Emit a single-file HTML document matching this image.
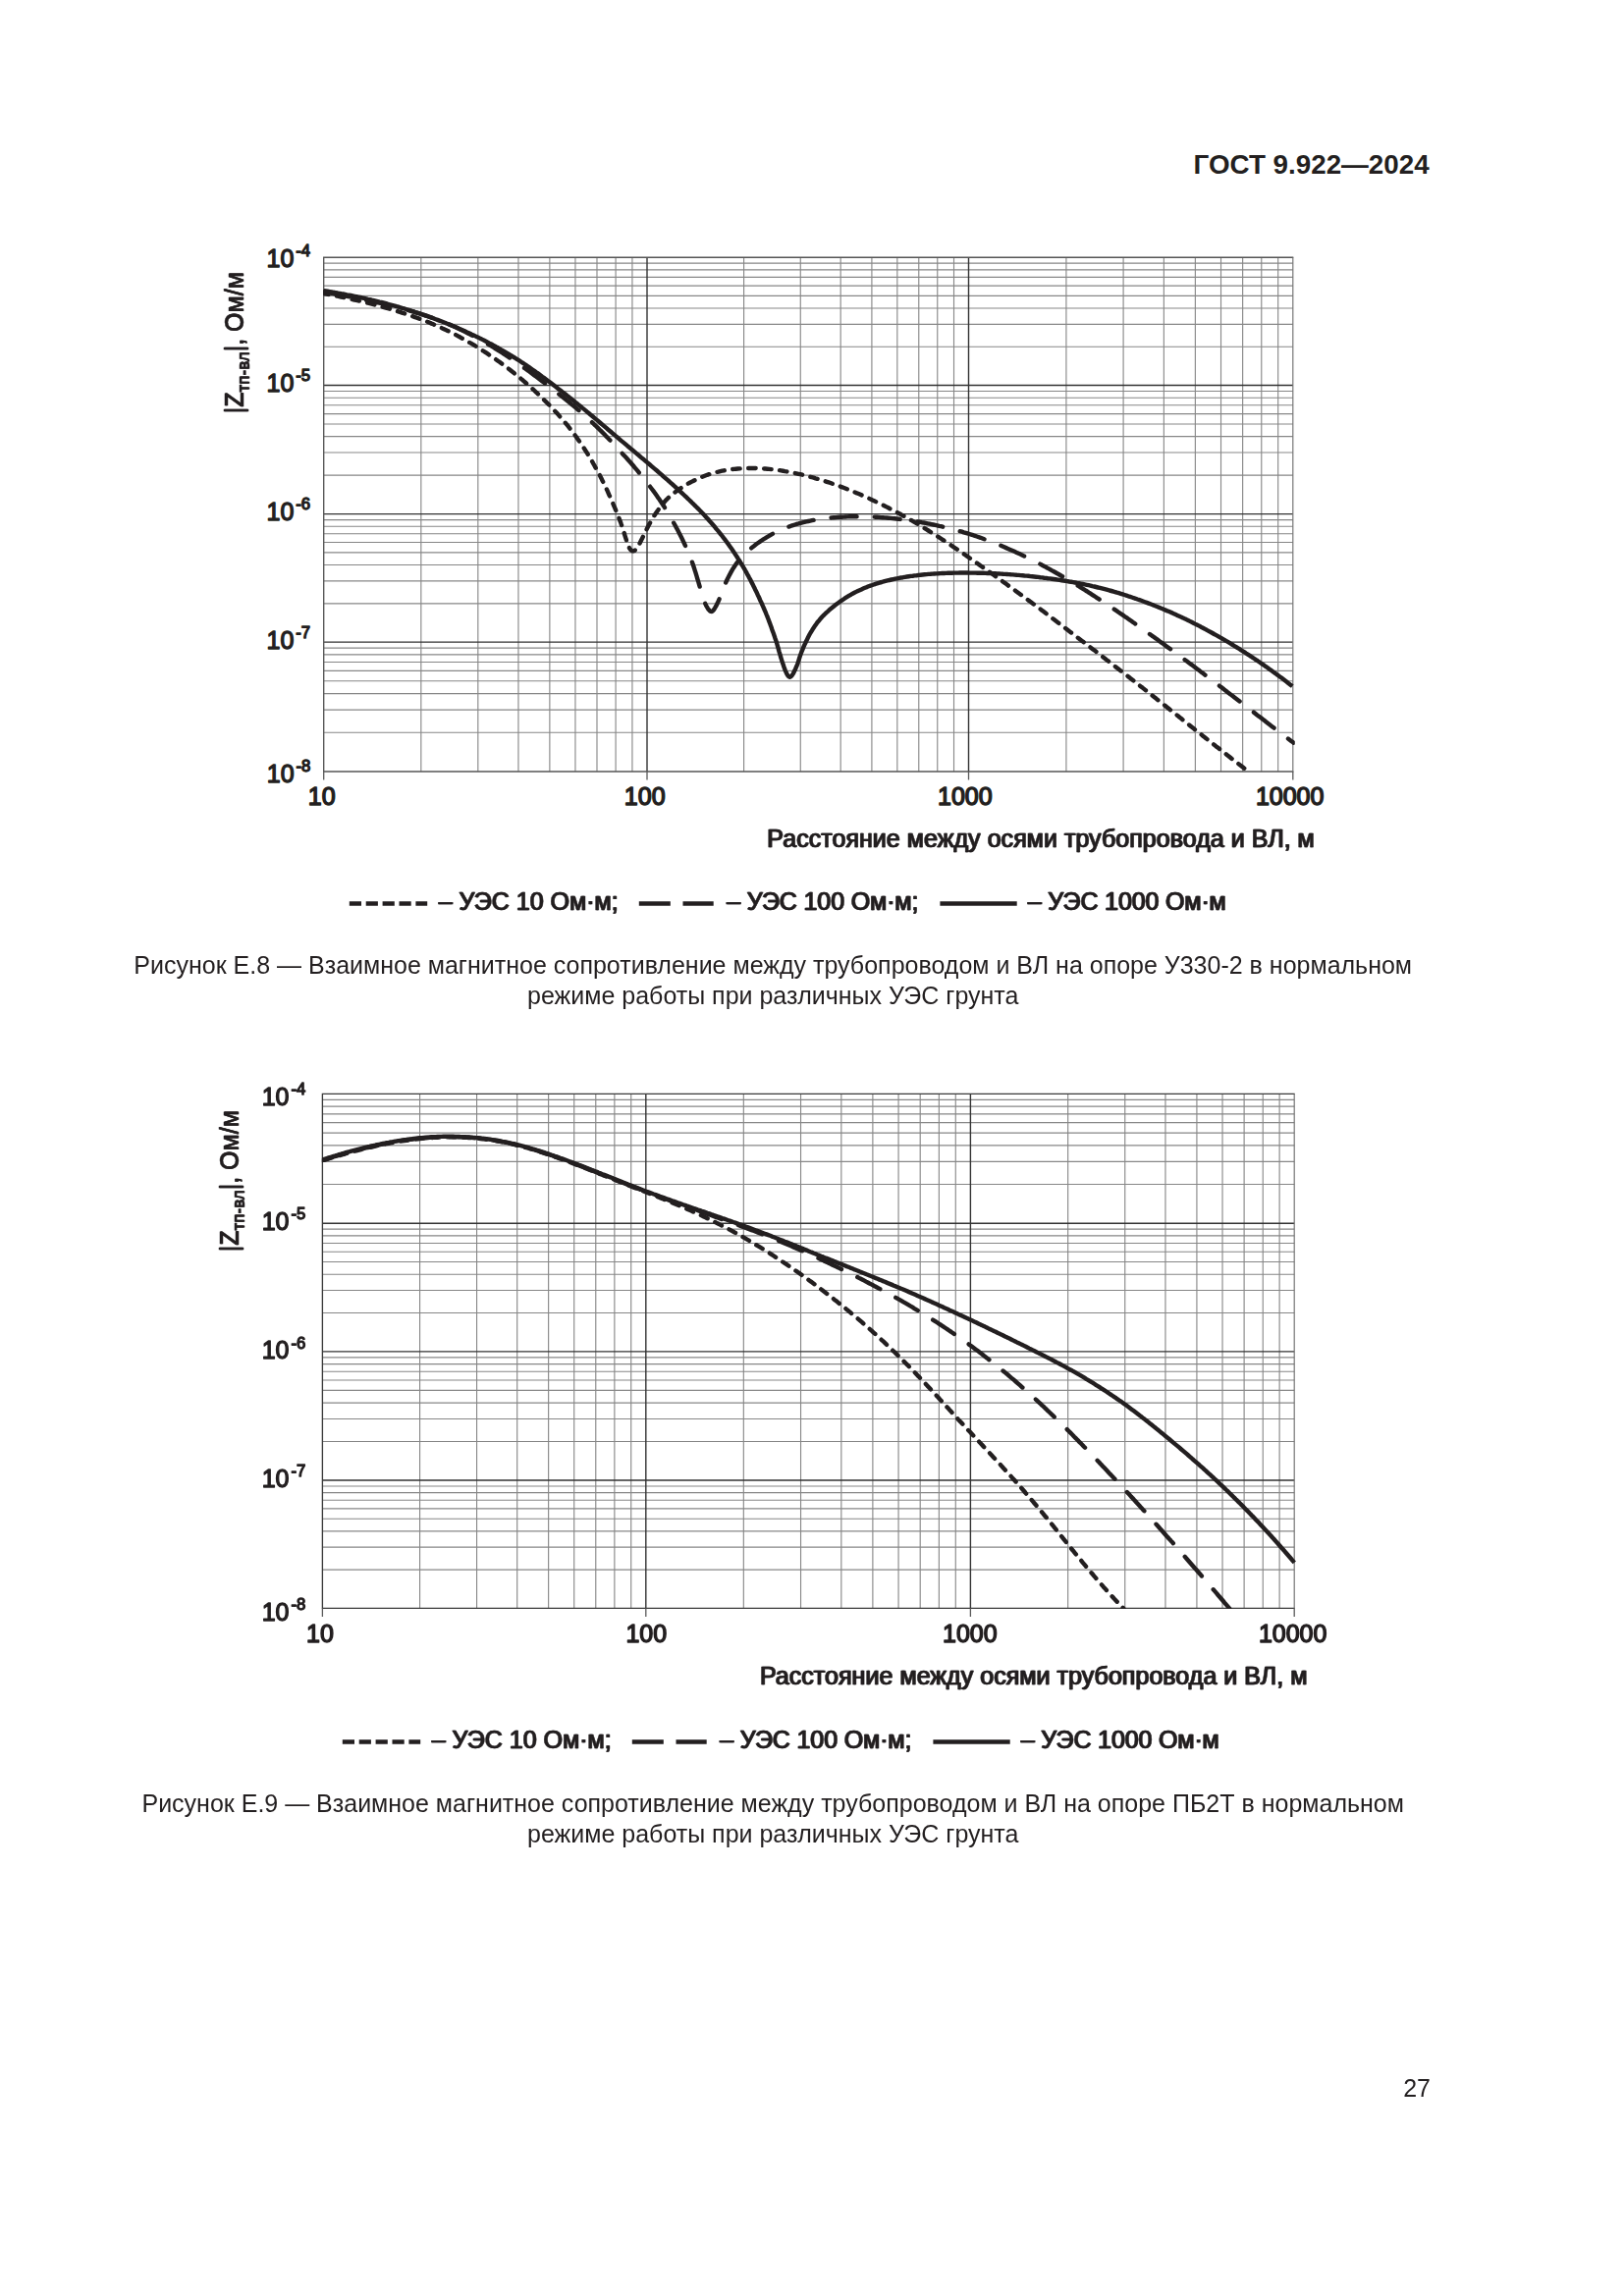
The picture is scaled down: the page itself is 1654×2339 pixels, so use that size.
<!DOCTYPE html>
<html lang="ru"><head><meta charset="utf-8"><title>ГОСТ 9.922—2024</title>
<style>
html,body{margin:0;padding:0;background:#fff}
body{width:1654px;height:2339px;overflow:hidden;position:relative}
svg{position:absolute;left:0;top:0;display:block}
text{font-family:"Liberation Sans",sans-serif;fill:#231f20;font-size:25px}
.cb{stroke:#231f20;stroke-width:0.5px;stroke-linejoin:round;font-size:25.0px}
.cl{stroke:#231f20;stroke-width:1.3px;stroke-linejoin:round;font-size:25.0px}
.cx{stroke:#231f20;stroke-width:1.4px;stroke-linejoin:round;font-size:25.0px}
.cap{font-size:25px;text-anchor:middle}
.hd{font-size:27.78px;font-weight:bold}
</style></head><body>
<svg width="1654" height="2339" viewBox="0 0 1654 2339">
<defs><filter id="ds" filterUnits="userSpaceOnUse" x="0" y="0" width="1654" height="2339" color-interpolation-filters="sRGB"><feOffset dx="0.6" dy="0" result="o"/><feMerge><feMergeNode in="SourceGraphic"/><feMergeNode in="o"/></feMerge></filter></defs>
<rect width="1654" height="2339" fill="#fff"/>
<text class="hd" x="1215.6" y="177.2">ГОСТ 9.922—2024</text>
<path d="M428.83,262.20V786.00M486.82,262.20V786.00M527.96,262.20V786.00M559.87,262.20V786.00M585.95,262.20V786.00M607.99,262.20V786.00M627.09,262.20V786.00M643.93,262.20V786.00M757.59,262.20V786.00M815.26,262.20V786.00M856.17,262.20V786.00M887.91,262.20V786.00M913.84,262.20V786.00M935.77,262.20V786.00M954.76,262.20V786.00M971.51,262.20V786.00M1085.93,262.20V786.00M1144.09,262.20V786.00M1185.36,262.20V786.00M1217.37,262.20V786.00M1243.52,262.20V786.00M1265.64,262.20V786.00M1284.79,262.20V786.00M1301.69,262.20V786.00M329.70,353.28H1316.80M329.70,330.33H1316.80M329.70,314.05H1316.80M329.70,301.42H1316.80M329.70,291.11H1316.80M329.70,282.38H1316.80M329.70,274.83H1316.80M329.70,268.16H1316.80M329.70,484.13H1316.80M329.70,461.05H1316.80M329.70,444.67H1316.80M329.70,431.97H1316.80M329.70,421.58H1316.80M329.70,412.81H1316.80M329.70,405.20H1316.80M329.70,398.50H1316.80M329.70,614.82H1316.80M329.70,591.84H1316.80M329.70,575.53H1316.80M329.70,562.88H1316.80M329.70,552.55H1316.80M329.70,543.81H1316.80M329.70,536.25H1316.80M329.70,529.57H1316.80M329.70,746.29H1316.80M329.70,723.07H1316.80M329.70,706.59H1316.80M329.70,693.81H1316.80M329.70,683.36H1316.80M329.70,674.53H1316.80M329.70,666.88H1316.80M329.70,660.14H1316.80" stroke="#878787" stroke-width="1.12" fill="none"/>
<path d="M659.00,262.20V786.00M986.50,262.20V786.00M329.70,392.50H1316.80M329.70,523.60H1316.80M329.70,654.10H1316.80" stroke="#333333" stroke-width="1.4" fill="none"/>
<path d="M329.05,262.20H1317.30M329.70,262.20V786.00M329.05,786.00H1317.30" stroke="#555555" stroke-width="1.35" fill="none"/>
<path d="M1316.80,262.20V786.00" stroke="#707070" stroke-width="1.15" fill="none"/>
<path d="M329.70,786.00V794.60M659.00,786.00V794.60M986.50,786.00V794.60M1316.80,786.00V794.60" stroke="#5a5a5a" stroke-width="1.3" fill="none"/>
<clipPath id="cl262"><rect x="329.10" y="259.20" width="989.70" height="527.50"/></clipPath>
<g clip-path="url(#cl262)">
<path d="M330.0,299.0 L331.9,299.4 L333.8,299.8 L335.8,300.1 L337.7,300.5 L339.7,300.9 L341.6,301.3 L343.5,301.7 L345.5,302.1 L347.4,302.5 L349.4,302.9 L351.3,303.3 L353.3,303.7 L355.2,304.2 L357.2,304.6 L359.1,305.0 L361.1,305.5 L363.0,305.9 L365.0,306.4 L366.9,306.8 L368.8,307.3 L370.8,307.8 L372.7,308.2 L374.7,308.7 L376.6,309.2 L378.6,309.7 L380.5,310.2 L382.4,310.7 L384.4,311.2 L386.3,311.7 L388.2,312.3 L390.2,312.8 L392.1,313.3 L394.0,313.9 L396.0,314.4 L397.9,315.0 L399.8,315.6 L401.7,316.2 L403.6,316.7 L405.6,317.3 L407.5,317.9 L409.4,318.6 L411.3,319.2 L413.2,319.8 L415.1,320.4 L417.0,321.1 L418.9,321.7 L420.8,322.4 L422.7,323.1 L424.5,323.7 L426.4,324.4 L428.3,325.1 L430.2,325.8 L432.0,326.6 L433.9,327.3 L435.8,328.0 L437.6,328.8 L439.5,329.6 L441.3,330.3 L443.1,331.1 L445.0,331.9 L446.8,332.7 L448.6,333.5 L450.4,334.4 L452.2,335.2 L454.0,336.1 L455.8,336.9 L457.6,337.8 L459.4,338.7 L461.2,339.6 L463.0,340.5 L464.7,341.4 L466.5,342.4 L468.2,343.3 L470.0,344.3 L471.7,345.2 L473.5,346.2 L475.2,347.2 L476.9,348.2 L478.6,349.2 L480.4,350.2 L482.1,351.2 L483.8,352.2 L485.5,353.3 L487.2,354.3 L488.9,355.4 L490.6,356.5 L492.2,357.5 L493.9,358.6 L495.6,359.7 L497.3,360.8 L498.9,362.0 L500.6,363.1 L502.2,364.2 L503.9,365.3 L505.5,366.5 L507.2,367.7 L508.8,368.8 L510.4,370.0 L512.0,371.2 L513.6,372.4 L515.2,373.6 L516.8,374.8 L518.4,376.0 L520.0,377.2 L521.6,378.5 L523.2,379.7 L524.7,381.0 L526.3,382.2 L527.8,383.5 L529.4,384.8 L530.9,386.1 L532.4,387.3 L533.9,388.6 L535.5,390.0 L537.0,391.3 L538.5,392.6 L539.9,393.9 L541.4,395.3 L542.9,396.6 L544.4,398.0 L545.8,399.3 L547.3,400.7 L548.7,402.1 L550.2,403.5 L551.6,404.9 L553.0,406.3 L554.5,407.7 L555.9,409.1 L557.3,410.5 L558.7,411.9 L560.1,413.4 L561.5,414.8 L562.8,416.2 L564.2,417.7 L565.6,419.2 L566.9,420.6 L568.3,422.1 L569.6,423.6 L570.9,425.1 L572.2,426.6 L573.5,428.1 L574.8,429.6 L576.1,431.1 L577.4,432.7 L578.6,434.2 L579.9,435.8 L581.1,437.4 L582.3,438.9 L583.5,440.5 L584.7,442.1 L585.9,443.7 L587.1,445.3 L588.2,447.0 L589.4,448.6 L590.5,450.2 L591.6,451.9 L592.8,453.5 L593.9,455.2 L595.0,456.9 L596.0,458.6 L597.1,460.2 L598.2,461.9 L599.2,463.6 L600.3,465.4 L601.3,467.1 L602.3,468.8 L603.3,470.5 L604.3,472.3 L605.3,474.0 L606.2,475.8 L607.2,477.5 L608.2,479.3 L609.1,481.0 L610.1,482.8 L611.0,484.5 L611.9,486.3 L612.8,488.1 L613.7,489.9 L614.6,491.7 L615.5,493.5 L616.4,495.3 L617.2,497.1 L618.1,498.9 L618.9,500.7 L619.7,502.6 L620.5,504.4 L621.4,506.2 L622.2,508.0 L623.0,509.9 L623.8,511.7 L624.5,513.5 L625.3,515.4 L626.1,517.2 L626.9,519.1 L627.6,520.9 L628.4,522.8 L629.1,524.6 L629.9,526.5 L630.6,528.3 L631.3,530.2 L632.1,532.1 L632.7,533.9 L633.4,535.8 L634.0,537.7 L634.7,539.6 L635.3,541.5 L635.8,543.5 L636.4,545.4 L637.0,547.3 L637.6,549.2 L638.2,551.1 L638.8,553.0 L639.5,554.9 L640.3,556.7 L641.1,558.5 L642.2,560.0 L643.5,561.1 L644.8,561.4 L646.2,561.0 L647.4,560.0 L648.6,558.5 L649.7,556.9 L650.7,555.2 L651.6,553.4 L652.5,551.6 L653.4,549.8 L654.3,548.0 L655.2,546.2 L656.0,544.4 L656.9,542.6 L657.8,540.8 L658.7,539.0 L659.6,537.2 L660.5,535.4 L661.5,533.6 L662.5,531.9 L663.5,530.1 L664.5,528.4 L665.5,526.7 L666.6,525.0 L667.7,523.3 L668.8,521.6 L670.0,520.0 L671.2,518.3 L672.4,516.7 L673.6,515.1 L674.8,513.6 L676.1,512.0 L677.4,510.5 L678.7,509.1 L680.1,507.7 L681.6,506.3 L683.1,505.0 L684.6,503.8 L686.1,502.5 L687.7,501.3 L689.3,500.2 L690.9,499.0 L692.5,497.9 L694.1,496.8 L695.8,495.7 L697.4,494.7 L699.1,493.7 L700.8,492.7 L702.5,491.8 L704.2,490.9 L706.0,490.0 L707.7,489.1 L709.5,488.3 L711.2,487.4 L713.0,486.7 L714.8,485.9 L716.6,485.2 L718.4,484.5 L720.3,483.8 L722.1,483.2 L724.0,482.6 L725.9,482.1 L727.8,481.5 L729.7,481.0 L731.6,480.6 L733.6,480.1 L735.5,479.7 L737.5,479.3 L739.4,479.0 L741.4,478.7 L743.4,478.4 L745.4,478.1 L747.4,477.9 L749.4,477.7 L751.4,477.5 L753.4,477.4 L755.4,477.2 L757.4,477.1 L759.4,477.0 L761.4,477.0 L763.4,477.0 L765.5,477.0 L767.5,477.0 L769.5,477.0 L771.5,477.1 L773.5,477.2 L775.5,477.3 L777.5,477.4 L779.5,477.5 L781.5,477.7 L783.5,477.9 L785.5,478.1 L787.5,478.3 L789.5,478.6 L791.5,478.9 L793.5,479.1 L795.5,479.4 L797.5,479.7 L799.4,480.1 L801.4,480.4 L803.4,480.8 L805.4,481.2 L807.3,481.6 L809.3,482.0 L811.2,482.4 L813.2,482.8 L815.1,483.2 L817.1,483.7 L819.0,484.2 L821.0,484.7 L822.9,485.2 L824.8,485.7 L826.8,486.2 L828.7,486.7 L830.6,487.3 L832.5,487.8 L834.4,488.4 L836.4,489.0 L838.3,489.6 L840.2,490.2 L842.1,490.8 L844.0,491.4 L845.9,492.0 L847.8,492.7 L849.6,493.4 L851.5,494.0 L853.4,494.7 L855.3,495.4 L857.2,496.1 L859.0,496.8 L860.9,497.5 L862.8,498.3 L864.6,499.0 L866.5,499.8 L868.3,500.5 L870.2,501.3 L872.0,502.1 L873.9,502.8 L875.7,503.6 L877.6,504.4 L879.4,505.3 L881.2,506.1 L883.0,506.9 L884.9,507.7 L886.7,508.6 L888.5,509.4 L890.3,510.2 L892.1,511.1 L893.9,512.0 L895.7,512.8 L897.5,513.7 L899.3,514.6 L901.1,515.5 L902.9,516.4 L904.7,517.3 L906.4,518.2 L908.2,519.1 L910.0,520.1 L911.7,521.0 L913.5,521.9 L915.3,522.9 L917.0,523.8 L918.8,524.8 L920.5,525.8 L922.3,526.7 L924.0,527.7 L925.7,528.7 L927.5,529.7 L929.2,530.7 L930.9,531.7 L932.6,532.7 L934.3,533.7 L936.0,534.8 L937.8,535.8 L939.5,536.8 L941.2,537.9 L942.9,538.9 L944.6,540.0 L946.3,541.0 L948.0,542.1 L949.7,543.1 L951.3,544.2 L953.0,545.3 L954.7,546.4 L956.4,547.4 L958.1,548.5 L959.7,549.6 L961.4,550.7 L963.1,551.8 L964.8,552.9 L966.4,554.0 L968.1,555.1 L969.7,556.2 L971.4,557.4 L973.1,558.5 L974.7,559.6 L976.4,560.7 L978.0,561.9 L979.7,563.0 L981.3,564.1 L983.0,565.3 L984.6,566.4 L986.2,567.5 L987.9,568.7 L989.5,569.8 L991.2,571.0 L992.8,572.1 L994.4,573.3 L996.1,574.4 L997.7,575.6 L999.3,576.7 L1001.0,577.9 L1002.6,579.0 L1004.2,580.2 L1005.9,581.3 L1007.5,582.5 L1009.1,583.6 L1010.7,584.8 L1012.4,586.0 L1014.0,587.1 L1015.6,588.3 L1017.2,589.5 L1018.9,590.6 L1020.5,591.8 L1022.1,593.0 L1023.7,594.1 L1025.3,595.3 L1026.9,596.5 L1028.6,597.7 L1030.2,598.8 L1031.8,600.0 L1033.4,601.2 L1035.0,602.4 L1036.6,603.6 L1038.2,604.7 L1039.8,605.9 L1041.5,607.1 L1043.1,608.3 L1044.7,609.5 L1046.3,610.7 L1047.9,611.9 L1049.5,613.0 L1051.1,614.2 L1052.7,615.4 L1054.3,616.6 L1055.9,617.8 L1057.5,619.0 L1059.1,620.2 L1060.7,621.4 L1062.3,622.6 L1063.9,623.8 L1065.5,625.0 L1067.0,626.2 L1068.6,627.5 L1070.2,628.7 L1071.8,629.9 L1073.4,631.1 L1075.0,632.3 L1076.6,633.5 L1078.2,634.7 L1079.8,635.9 L1081.3,637.2 L1082.9,638.4 L1084.5,639.6 L1086.1,640.8 L1087.7,642.0 L1089.3,643.2 L1090.9,644.4 L1092.5,645.7 L1094.0,646.9 L1095.6,648.1 L1097.2,649.3 L1098.8,650.5 L1100.4,651.7 L1102.0,652.9 L1103.6,654.1 L1105.2,655.3 L1106.8,656.6 L1108.3,657.8 L1109.9,659.0 L1111.5,660.2 L1113.1,661.4 L1114.7,662.6 L1116.3,663.8 L1117.9,665.1 L1119.4,666.3 L1121.0,667.5 L1122.6,668.7 L1124.2,669.9 L1125.8,671.2 L1127.3,672.4 L1128.9,673.6 L1130.5,674.8 L1132.1,676.1 L1133.7,677.3 L1135.2,678.5 L1136.8,679.7 L1138.4,680.9 L1140.0,682.2 L1141.6,683.4 L1143.1,684.6 L1144.7,685.8 L1146.3,687.1 L1147.9,688.3 L1149.4,689.5 L1151.0,690.8 L1152.6,692.0 L1154.2,693.2 L1155.7,694.5 L1157.3,695.7 L1158.9,696.9 L1160.4,698.2 L1162.0,699.4 L1163.6,700.6 L1165.2,701.9 L1166.7,703.1 L1168.3,704.4 L1169.9,705.6 L1171.4,706.8 L1173.0,708.1 L1174.5,709.3 L1176.1,710.6 L1177.7,711.8 L1179.2,713.1 L1180.8,714.3 L1182.4,715.5 L1183.9,716.8 L1185.5,718.0 L1187.1,719.3 L1188.6,720.5 L1190.2,721.8 L1191.7,723.0 L1193.3,724.2 L1194.9,725.5 L1196.4,726.7 L1198.0,728.0 L1199.6,729.2 L1201.1,730.5 L1202.7,731.7 L1204.2,733.0 L1205.8,734.2 L1207.4,735.5 L1208.9,736.7 L1210.5,738.0 L1212.0,739.2 L1213.6,740.5 L1215.2,741.7 L1216.7,743.0 L1218.3,744.2 L1219.8,745.5 L1221.4,746.7 L1223.0,747.9 L1224.5,749.2 L1226.1,750.4 L1227.7,751.7 L1229.2,752.9 L1230.8,754.2 L1232.4,755.4 L1233.9,756.6 L1235.5,757.9 L1237.1,759.1 L1238.6,760.4 L1240.2,761.6 L1241.8,762.8 L1243.3,764.1 L1244.9,765.3 L1246.5,766.5 L1248.1,767.8 L1249.6,769.0 L1251.2,770.2 L1252.8,771.5 L1254.3,772.7 L1255.9,773.9 L1257.5,775.1 L1259.1,776.4 L1260.7,777.6 L1262.2,778.8 L1263.8,780.0 L1265.4,781.2 L1267.0,782.5 L1268.6,783.7 L1270.2,784.9" stroke="#231f20" stroke-width="4.4" fill="none" stroke-linejoin="round" stroke-linecap="round" stroke-dasharray="7.5 8.5" stroke-dashoffset="2.8"/>
<path d="M330.0,297.3 L332.0,297.6 L333.9,298.0 L335.8,298.4 L337.8,298.7 L339.7,299.1 L341.6,299.5 L343.6,299.9 L345.5,300.3 L347.5,300.6 L349.4,301.0 L351.4,301.4 L353.3,301.8 L355.2,302.2 L357.2,302.5 L359.2,302.9 L361.1,303.3 L363.1,303.7 L365.0,304.1 L367.0,304.5 L368.9,304.9 L370.9,305.3 L372.8,305.7 L374.8,306.2 L376.8,306.6 L378.7,307.0 L380.7,307.4 L382.6,307.9 L384.6,308.3 L386.5,308.7 L388.5,309.2 L390.4,309.6 L392.4,310.1 L394.4,310.6 L396.3,311.0 L398.3,311.5 L400.2,312.0 L402.1,312.5 L404.1,313.0 L406.0,313.5 L408.0,314.0 L409.9,314.5 L411.9,315.0 L413.8,315.5 L415.7,316.1 L417.7,316.6 L419.6,317.2 L421.5,317.7 L423.4,318.3 L425.3,318.9 L427.3,319.4 L429.2,320.0 L431.1,320.7 L433.0,321.3 L434.9,321.9 L436.8,322.5 L438.7,323.2 L440.5,323.9 L442.4,324.5 L444.3,325.2 L446.2,325.9 L448.0,326.6 L449.9,327.3 L451.7,328.1 L453.6,328.8 L455.4,329.6 L457.2,330.4 L459.1,331.1 L460.9,331.9 L462.7,332.8 L464.5,333.6 L466.3,334.4 L468.1,335.3 L469.9,336.1 L471.7,337.0 L473.5,337.9 L475.2,338.8 L477.0,339.7 L478.8,340.6 L480.5,341.5 L482.3,342.4 L484.1,343.3 L485.8,344.3 L487.5,345.2 L489.3,346.2 L491.0,347.2 L492.8,348.2 L494.5,349.2 L496.2,350.2 L497.9,351.2 L499.6,352.2 L501.4,353.2 L503.1,354.2 L504.8,355.3 L506.5,356.3 L508.2,357.4 L509.9,358.5 L511.5,359.5 L513.2,360.6 L514.9,361.7 L516.6,362.8 L518.2,363.9 L519.9,365.0 L521.5,366.1 L523.2,367.3 L524.8,368.4 L526.5,369.5 L528.1,370.7 L529.8,371.8 L531.4,373.0 L533.0,374.1 L534.7,375.3 L536.3,376.5 L537.9,377.6 L539.5,378.8 L541.1,380.0 L542.7,381.2 L544.3,382.4 L545.9,383.6 L547.5,384.8 L549.1,386.0 L550.7,387.2 L552.3,388.4 L553.9,389.6 L555.5,390.8 L557.1,392.0 L558.7,393.3 L560.3,394.5 L561.8,395.7 L563.4,396.9 L565.0,398.2 L566.6,399.4 L568.1,400.6 L569.7,401.9 L571.3,403.1 L572.8,404.3 L574.4,405.6 L575.9,406.8 L577.5,408.1 L579.0,409.3 L580.6,410.6 L582.1,411.9 L583.7,413.1 L585.2,414.4 L586.7,415.7 L588.2,417.0 L589.8,418.3 L591.3,419.6 L592.8,420.9 L594.3,422.2 L595.8,423.6 L597.2,424.9 L598.7,426.3 L600.2,427.6 L601.7,429.0 L603.1,430.3 L604.6,431.7 L606.0,433.1 L607.5,434.5 L608.9,435.9 L610.3,437.3 L611.7,438.7 L613.2,440.1 L614.6,441.5 L616.0,442.9 L617.4,444.4 L618.7,445.8 L620.1,447.2 L621.5,448.7 L622.9,450.1 L624.2,451.6 L625.6,453.1 L627.0,454.5 L628.3,456.0 L629.7,457.5 L631.0,458.9 L632.4,460.4 L633.7,461.9 L635.1,463.4 L636.4,464.8 L637.8,466.3 L639.1,467.8 L640.4,469.3 L641.8,470.8 L643.1,472.3 L644.4,473.8 L645.7,475.3 L647.0,476.9 L648.3,478.4 L649.6,479.9 L650.8,481.5 L652.1,483.0 L653.4,484.6 L654.6,486.1 L655.9,487.7 L657.1,489.2 L658.4,490.8 L659.6,492.4 L660.8,494.0 L662.0,495.6 L663.2,497.2 L664.4,498.8 L665.6,500.4 L666.8,502.0 L667.9,503.6 L669.1,505.3 L670.2,506.9 L671.4,508.6 L672.5,510.2 L673.6,511.9 L674.7,513.5 L675.8,515.2 L676.9,516.9 L677.9,518.6 L679.0,520.2 L680.0,521.9 L681.0,523.7 L682.0,525.4 L683.0,527.1 L684.0,528.8 L685.0,530.5 L685.9,532.3 L686.9,534.0 L687.9,535.8 L688.8,537.5 L689.8,539.3 L690.7,541.0 L691.6,542.8 L692.5,544.5 L693.4,546.3 L694.3,548.1 L695.2,549.9 L696.0,551.7 L696.9,553.5 L697.7,555.3 L698.5,557.1 L699.3,558.9 L700.1,560.8 L700.9,562.6 L701.7,564.4 L702.4,566.3 L703.2,568.1 L703.9,570.0 L704.6,571.9 L705.3,573.7 L705.9,575.6 L706.6,577.5 L707.2,579.4 L707.8,581.3 L708.4,583.2 L709.0,585.2 L709.6,587.1 L710.1,589.0 L710.7,590.9 L711.3,592.8 L711.8,594.7 L712.4,596.7 L713.0,598.6 L713.6,600.5 L714.1,602.4 L714.7,604.3 L715.2,606.3 L715.8,608.2 L716.4,610.1 L717.1,612.0 L717.8,613.8 L718.6,615.6 L719.5,617.5 L720.5,619.2 L721.5,620.8 L722.7,622.1 L723.9,622.9 L725.0,623.0 L726.1,622.2 L727.1,621.0 L728.1,619.4 L729.1,617.7 L730.0,615.9 L730.9,614.1 L731.7,612.3 L732.5,610.5 L733.3,608.6 L734.0,606.8 L734.7,604.9 L735.4,603.0 L736.1,601.1 L736.8,599.3 L737.5,597.4 L738.3,595.5 L739.1,593.7 L740.0,591.8 L740.8,590.0 L741.7,588.2 L742.6,586.4 L743.6,584.6 L744.5,582.9 L745.5,581.1 L746.5,579.4 L747.6,577.7 L748.7,576.0 L749.8,574.4 L751.0,572.8 L752.3,571.2 L753.5,569.7 L754.8,568.2 L756.2,566.8 L757.6,565.3 L759.0,564.0 L760.4,562.6 L761.9,561.3 L763.3,560.0 L764.8,558.7 L766.3,557.4 L767.9,556.2 L769.4,555.0 L771.0,553.8 L772.6,552.7 L774.2,551.6 L775.8,550.5 L777.5,549.4 L779.2,548.4 L780.8,547.4 L782.5,546.4 L784.2,545.4 L785.9,544.4 L787.6,543.5 L789.3,542.6 L791.1,541.7 L792.9,540.8 L794.7,540.0 L796.5,539.2 L798.3,538.5 L800.2,537.7 L802.0,537.0 L803.9,536.4 L805.8,535.7 L807.7,535.1 L809.6,534.5 L811.5,533.9 L813.4,533.4 L815.4,532.8 L817.3,532.3 L819.3,531.9 L821.2,531.4 L823.2,531.0 L825.1,530.6 L827.1,530.2 L829.1,529.8 L831.1,529.5 L833.1,529.2 L835.1,528.9 L837.1,528.6 L839.0,528.3 L841.0,528.1 L843.0,527.8 L845.0,527.6 L847.0,527.4 L849.0,527.2 L851.0,527.1 L853.0,526.9 L855.0,526.8 L857.1,526.7 L859.1,526.6 L861.1,526.5 L863.1,526.4 L865.1,526.3 L867.1,526.3 L869.1,526.2 L871.1,526.2 L873.1,526.2 L875.1,526.2 L877.1,526.2 L879.1,526.3 L881.1,526.3 L883.1,526.4 L885.1,526.4 L887.1,526.5 L889.1,526.6 L891.2,526.7 L893.2,526.8 L895.2,526.9 L897.1,527.1 L899.1,527.2 L901.1,527.4 L903.1,527.5 L905.1,527.7 L907.1,527.9 L909.1,528.1 L911.1,528.3 L913.1,528.5 L915.1,528.7 L917.1,529.0 L919.1,529.2 L921.0,529.5 L923.0,529.7 L925.0,530.0 L927.0,530.3 L929.0,530.6 L930.9,530.9 L932.9,531.2 L934.9,531.5 L936.9,531.8 L938.8,532.2 L940.8,532.5 L942.8,532.9 L944.7,533.3 L946.7,533.7 L948.6,534.1 L950.6,534.5 L952.5,534.9 L954.5,535.3 L956.5,535.8 L958.4,536.2 L960.3,536.7 L962.3,537.1 L964.2,537.6 L966.2,538.1 L968.1,538.6 L970.0,539.1 L972.0,539.6 L973.9,540.1 L975.8,540.6 L977.8,541.2 L979.7,541.7 L981.6,542.3 L983.5,542.8 L985.4,543.4 L987.3,544.0 L989.2,544.6 L991.1,545.2 L993.0,545.9 L994.9,546.5 L996.8,547.2 L998.7,547.8 L1000.6,548.5 L1002.4,549.2 L1004.3,549.8 L1006.2,550.5 L1008.0,551.3 L1009.9,552.0 L1011.8,552.7 L1013.6,553.4 L1015.5,554.2 L1017.3,554.9 L1019.2,555.7 L1021.0,556.5 L1022.8,557.3 L1024.7,558.1 L1026.5,558.9 L1028.3,559.7 L1030.1,560.5 L1032.0,561.3 L1033.8,562.1 L1035.6,563.0 L1037.4,563.8 L1039.2,564.6 L1041.0,565.5 L1042.8,566.4 L1044.6,567.2 L1046.4,568.1 L1048.2,569.0 L1050.0,569.9 L1051.8,570.8 L1053.6,571.7 L1055.3,572.6 L1057.1,573.5 L1058.9,574.4 L1060.7,575.3 L1062.4,576.3 L1064.2,577.2 L1065.9,578.2 L1067.7,579.1 L1069.5,580.1 L1071.2,581.1 L1072.9,582.0 L1074.7,583.0 L1076.4,584.0 L1078.2,585.0 L1079.9,586.0 L1081.6,587.0 L1083.4,588.0 L1085.1,589.0 L1086.8,590.0 L1088.5,591.0 L1090.2,592.1 L1092.0,593.1 L1093.7,594.1 L1095.4,595.1 L1097.1,596.2 L1098.8,597.2 L1100.5,598.3 L1102.2,599.3 L1103.9,600.4 L1105.6,601.5 L1107.3,602.5 L1108.9,603.6 L1110.6,604.7 L1112.3,605.8 L1114.0,606.9 L1115.7,608.0 L1117.3,609.1 L1119.0,610.2 L1120.7,611.3 L1122.3,612.4 L1124.0,613.5 L1125.6,614.6 L1127.3,615.7 L1129.0,616.8 L1130.6,617.9 L1132.3,619.0 L1133.9,620.1 L1135.6,621.2 L1137.3,622.3 L1138.9,623.5 L1140.6,624.6 L1142.2,625.7 L1143.9,626.8 L1145.5,628.0 L1147.2,629.1 L1148.8,630.3 L1150.4,631.4 L1152.1,632.5 L1153.7,633.7 L1155.3,634.8 L1157.0,636.0 L1158.6,637.1 L1160.2,638.3 L1161.9,639.4 L1163.5,640.6 L1165.1,641.8 L1166.8,642.9 L1168.4,644.1 L1170.0,645.3 L1171.6,646.4 L1173.2,647.6 L1174.9,648.8 L1176.5,649.9 L1178.1,651.1 L1179.7,652.3 L1181.3,653.5 L1182.9,654.6 L1184.6,655.8 L1186.2,657.0 L1187.8,658.2 L1189.4,659.4 L1191.0,660.5 L1192.6,661.7 L1194.2,662.9 L1195.8,664.1 L1197.5,665.3 L1199.1,666.5 L1200.7,667.6 L1202.3,668.8 L1203.9,670.0 L1205.5,671.2 L1207.1,672.4 L1208.7,673.6 L1210.3,674.8 L1211.9,676.0 L1213.5,677.1 L1215.1,678.3 L1216.7,679.5 L1218.3,680.7 L1219.9,681.9 L1221.5,683.1 L1223.1,684.4 L1224.7,685.6 L1226.3,686.8 L1227.9,688.0 L1229.5,689.2 L1231.1,690.4 L1232.7,691.6 L1234.2,692.8 L1235.8,694.0 L1237.4,695.2 L1239.0,696.4 L1240.6,697.6 L1242.2,698.9 L1243.8,700.1 L1245.4,701.3 L1246.9,702.5 L1248.5,703.7 L1250.1,705.0 L1251.7,706.2 L1253.3,707.4 L1254.8,708.6 L1256.4,709.8 L1258.0,711.1 L1259.6,712.3 L1261.2,713.5 L1262.8,714.7 L1264.3,716.0 L1265.9,717.2 L1267.5,718.4 L1269.1,719.6 L1270.7,720.9 L1272.2,722.1 L1273.8,723.3 L1275.4,724.5 L1277.0,725.7 L1278.6,727.0 L1280.1,728.2 L1281.7,729.4 L1283.3,730.6 L1284.9,731.8 L1286.5,733.1 L1288.1,734.3 L1289.6,735.5 L1291.2,736.7 L1292.8,737.9 L1294.4,739.2 L1296.0,740.4 L1297.6,741.6 L1299.2,742.8 L1300.7,744.0 L1302.3,745.2 L1303.9,746.4 L1305.5,747.6 L1307.1,748.8 L1308.7,750.0 L1310.3,751.3 L1311.9,752.5 L1313.5,753.7 L1315.1,754.9 L1316.7,756.1 L1317.5,756.7" stroke="#231f20" stroke-width="4.4" fill="none" stroke-linejoin="round" stroke-linecap="round" stroke-dasharray="26.1 18.1" stroke-dashoffset="0.3"/>
<path d="M329.8,296.2 L331.8,296.5 L333.8,296.8 L335.7,297.1 L337.7,297.4 L339.6,297.8 L341.6,298.1 L343.6,298.5 L345.5,298.8 L347.5,299.2 L349.4,299.5 L351.4,299.9 L353.4,300.3 L355.3,300.6 L357.3,301.0 L359.2,301.4 L361.2,301.8 L363.1,302.2 L365.1,302.6 L367.0,303.0 L369.0,303.5 L370.9,303.9 L372.9,304.3 L374.8,304.8 L376.8,305.2 L378.7,305.7 L380.7,306.1 L382.6,306.6 L384.6,307.1 L386.5,307.6 L388.4,308.0 L390.4,308.5 L392.3,309.0 L394.2,309.5 L396.2,310.1 L398.1,310.6 L400.0,311.1 L402.0,311.6 L403.9,312.2 L405.8,312.7 L407.7,313.3 L409.6,313.9 L411.6,314.4 L413.5,315.0 L415.4,315.6 L417.3,316.2 L419.2,316.8 L421.1,317.4 L423.0,318.0 L424.9,318.6 L426.8,319.2 L428.7,319.9 L430.6,320.5 L432.5,321.1 L434.4,321.8 L436.3,322.5 L438.1,323.1 L440.0,323.8 L441.9,324.5 L443.8,325.2 L445.6,325.9 L447.5,326.6 L449.4,327.3 L451.2,328.0 L453.1,328.7 L454.9,329.5 L456.8,330.2 L458.6,331.0 L460.5,331.8 L462.3,332.5 L464.2,333.3 L466.0,334.1 L467.8,334.9 L469.6,335.7 L471.5,336.5 L473.3,337.3 L475.1,338.2 L476.9,339.0 L478.7,339.8 L480.5,340.7 L482.3,341.5 L484.1,342.4 L485.9,343.3 L487.7,344.1 L489.5,345.0 L491.3,345.9 L493.1,346.8 L494.9,347.7 L496.6,348.6 L498.4,349.6 L500.2,350.5 L501.9,351.5 L503.7,352.4 L505.4,353.4 L507.2,354.3 L508.9,355.3 L510.6,356.3 L512.4,357.3 L514.1,358.3 L515.8,359.3 L517.5,360.3 L519.2,361.4 L520.9,362.4 L522.6,363.5 L524.3,364.5 L526.0,365.6 L527.7,366.7 L529.4,367.7 L531.0,368.8 L532.7,369.9 L534.4,371.0 L536.0,372.1 L537.7,373.3 L539.3,374.4 L540.9,375.5 L542.6,376.7 L544.2,377.8 L545.8,379.0 L547.5,380.1 L549.1,381.3 L550.7,382.5 L552.3,383.7 L553.9,384.8 L555.5,386.0 L557.1,387.2 L558.7,388.4 L560.3,389.6 L561.9,390.8 L563.5,392.0 L565.1,393.3 L566.7,394.5 L568.2,395.7 L569.8,396.9 L571.4,398.1 L573.0,399.4 L574.5,400.6 L576.1,401.8 L577.7,403.1 L579.2,404.3 L580.8,405.6 L582.4,406.8 L583.9,408.1 L585.5,409.3 L587.0,410.6 L588.6,411.8 L590.1,413.1 L591.7,414.3 L593.2,415.6 L594.8,416.9 L596.3,418.1 L597.8,419.4 L599.4,420.7 L600.9,422.0 L602.4,423.2 L604.0,424.5 L605.5,425.8 L607.0,427.1 L608.6,428.4 L610.1,429.7 L611.6,431.0 L613.1,432.3 L614.7,433.6 L616.2,434.9 L617.7,436.2 L619.2,437.5 L620.7,438.7 L622.3,440.0 L623.8,441.3 L625.3,442.6 L626.8,443.9 L628.4,445.2 L629.9,446.5 L631.4,447.8 L632.9,449.1 L634.5,450.4 L636.0,451.6 L637.5,452.9 L639.0,454.2 L640.6,455.5 L642.1,456.8 L643.6,458.1 L645.2,459.3 L646.7,460.6 L648.2,461.9 L649.8,463.2 L651.3,464.5 L652.8,465.8 L654.3,467.1 L655.9,468.3 L657.4,469.6 L658.9,470.9 L660.5,472.2 L662.0,473.5 L663.5,474.8 L665.0,476.1 L666.5,477.4 L668.1,478.7 L669.6,480.0 L671.1,481.3 L672.6,482.6 L674.1,483.9 L675.6,485.3 L677.1,486.6 L678.6,487.9 L680.1,489.2 L681.6,490.5 L683.1,491.9 L684.6,493.2 L686.1,494.5 L687.6,495.9 L689.0,497.2 L690.5,498.5 L692.0,499.9 L693.5,501.3 L694.9,502.6 L696.4,504.0 L697.8,505.3 L699.3,506.7 L700.7,508.1 L702.2,509.5 L703.6,510.9 L705.0,512.3 L706.5,513.7 L707.9,515.1 L709.3,516.5 L710.7,517.9 L712.1,519.3 L713.5,520.7 L714.9,522.2 L716.2,523.6 L717.6,525.1 L718.9,526.6 L720.3,528.0 L721.6,529.5 L722.9,531.0 L724.3,532.5 L725.6,534.0 L726.9,535.5 L728.2,537.0 L729.4,538.6 L730.7,540.1 L732.0,541.6 L733.2,543.2 L734.5,544.7 L735.7,546.3 L736.9,547.9 L738.1,549.4 L739.3,551.0 L740.5,552.6 L741.7,554.2 L742.8,555.9 L744.0,557.5 L745.1,559.1 L746.3,560.8 L747.4,562.4 L748.5,564.1 L749.6,565.8 L750.7,567.4 L751.7,569.1 L752.8,570.8 L753.9,572.5 L754.9,574.2 L755.9,575.9 L757.0,577.6 L758.0,579.3 L759.0,581.1 L760.0,582.8 L760.9,584.6 L761.9,586.3 L762.8,588.1 L763.8,589.8 L764.7,591.6 L765.6,593.4 L766.5,595.1 L767.4,596.9 L768.3,598.7 L769.1,600.5 L770.0,602.3 L770.9,604.1 L771.7,605.9 L772.6,607.7 L773.4,609.5 L774.2,611.4 L775.1,613.2 L775.9,615.0 L776.7,616.8 L777.5,618.7 L778.3,620.5 L779.1,622.3 L779.9,624.2 L780.6,626.0 L781.4,627.9 L782.1,629.7 L782.8,631.6 L783.5,633.5 L784.2,635.3 L784.9,637.2 L785.6,639.1 L786.2,641.0 L786.9,642.9 L787.6,644.7 L788.2,646.6 L788.9,648.5 L789.5,650.4 L790.2,652.3 L790.8,654.2 L791.4,656.1 L791.9,658.0 L792.5,659.9 L793.0,661.9 L793.5,663.8 L794.1,665.7 L794.7,667.6 L795.2,669.5 L795.8,671.4 L796.4,673.3 L797.0,675.2 L797.7,677.1 L798.3,679.0 L799.0,680.9 L799.7,682.8 L800.5,684.6 L801.3,686.4 L802.2,688.0 L803.3,689.2 L804.4,689.7 L805.5,689.2 L806.6,688.1 L807.6,686.6 L808.5,684.9 L809.4,683.1 L810.2,681.3 L811.0,679.4 L811.8,677.6 L812.5,675.7 L813.1,673.8 L813.7,671.9 L814.3,670.0 L814.9,668.1 L815.6,666.2 L816.3,664.3 L817.1,662.4 L817.8,660.6 L818.6,658.7 L819.4,656.9 L820.3,655.0 L821.1,653.2 L822.0,651.4 L822.9,649.6 L823.8,647.8 L824.7,646.0 L825.7,644.3 L826.8,642.6 L827.8,640.9 L828.9,639.2 L830.0,637.6 L831.2,635.9 L832.3,634.3 L833.6,632.8 L834.8,631.3 L836.1,629.8 L837.4,628.3 L838.8,626.9 L840.2,625.5 L841.6,624.1 L843.1,622.8 L844.5,621.5 L846.0,620.2 L847.5,619.0 L849.1,617.7 L850.6,616.5 L852.2,615.3 L853.7,614.2 L855.3,613.0 L856.9,611.9 L858.6,610.8 L860.2,609.7 L861.8,608.7 L863.4,607.7 L865.1,606.6 L866.8,605.7 L868.5,604.7 L870.2,603.8 L872.0,602.9 L873.8,602.0 L875.6,601.2 L877.4,600.4 L879.2,599.6 L881.0,598.8 L882.9,598.1 L884.7,597.3 L886.6,596.6 L888.5,596.0 L890.4,595.3 L892.3,594.7 L894.2,594.1 L896.1,593.5 L898.0,593.0 L900.0,592.4 L901.9,591.9 L903.9,591.4 L905.8,591.0 L907.8,590.5 L909.8,590.1 L911.7,589.7 L913.7,589.3 L915.7,588.9 L917.7,588.5 L919.7,588.2 L921.7,587.8 L923.6,587.5 L925.6,587.2 L927.6,586.9 L929.6,586.7 L931.6,586.4 L933.6,586.2 L935.6,585.9 L937.6,585.7 L939.6,585.5 L941.6,585.3 L943.6,585.1 L945.6,584.9 L947.6,584.8 L949.6,584.6 L951.6,584.5 L953.6,584.4 L955.6,584.3 L957.6,584.1 L959.6,584.0 L961.6,584.0 L963.6,583.9 L965.6,583.8 L967.6,583.7 L969.6,583.7 L971.6,583.6 L973.6,583.6 L975.6,583.6 L977.6,583.5 L979.6,583.5 L981.6,583.5 L983.6,583.5 L985.6,583.5 L987.6,583.6 L989.6,583.6 L991.6,583.6 L993.6,583.6 L995.6,583.7 L997.6,583.7 L999.6,583.8 L1001.6,583.8 L1003.6,583.9 L1005.6,584.0 L1007.6,584.1 L1009.6,584.1 L1011.6,584.2 L1013.6,584.3 L1015.6,584.4 L1017.6,584.5 L1019.6,584.6 L1021.6,584.8 L1023.6,584.9 L1025.6,585.0 L1027.6,585.1 L1029.5,585.3 L1031.5,585.4 L1033.5,585.6 L1035.5,585.8 L1037.5,585.9 L1039.5,586.1 L1041.5,586.3 L1043.5,586.5 L1045.5,586.6 L1047.5,586.8 L1049.5,587.1 L1051.4,587.3 L1053.4,587.5 L1055.4,587.7 L1057.4,587.9 L1059.4,588.2 L1061.4,588.4 L1063.4,588.7 L1065.3,588.9 L1067.3,589.2 L1069.3,589.4 L1071.3,589.7 L1073.2,590.0 L1075.2,590.3 L1077.2,590.6 L1079.2,590.9 L1081.2,591.2 L1083.1,591.5 L1085.1,591.8 L1087.1,592.1 L1089.0,592.5 L1091.0,592.8 L1093.0,593.1 L1094.9,593.5 L1096.9,593.9 L1098.9,594.2 L1100.8,594.6 L1102.8,595.0 L1104.7,595.4 L1106.7,595.8 L1108.7,596.2 L1110.6,596.6 L1112.5,597.1 L1114.5,597.5 L1116.4,598.0 L1118.4,598.5 L1120.3,598.9 L1122.2,599.4 L1124.2,599.9 L1126.1,600.4 L1128.0,600.9 L1130.0,601.5 L1131.9,602.0 L1133.8,602.5 L1135.7,603.1 L1137.6,603.7 L1139.5,604.2 L1141.5,604.8 L1143.4,605.4 L1145.3,606.0 L1147.2,606.6 L1149.1,607.3 L1151.0,607.9 L1152.8,608.5 L1154.7,609.2 L1156.6,609.8 L1158.5,610.5 L1160.4,611.1 L1162.3,611.8 L1164.1,612.5 L1166.0,613.2 L1167.9,613.9 L1169.8,614.6 L1171.6,615.3 L1173.5,616.0 L1175.3,616.8 L1177.2,617.5 L1179.1,618.2 L1180.9,619.0 L1182.8,619.8 L1184.6,620.5 L1186.4,621.3 L1188.3,622.1 L1190.1,622.8 L1191.9,623.6 L1193.8,624.4 L1195.6,625.3 L1197.4,626.1 L1199.2,626.9 L1201.1,627.7 L1202.9,628.6 L1204.7,629.4 L1206.5,630.3 L1208.3,631.1 L1210.1,632.0 L1211.9,632.9 L1213.7,633.8 L1215.5,634.7 L1217.2,635.6 L1219.0,636.5 L1220.8,637.4 L1222.6,638.3 L1224.3,639.3 L1226.1,640.2 L1227.9,641.1 L1229.6,642.1 L1231.4,643.1 L1233.1,644.0 L1234.9,645.0 L1236.6,646.0 L1238.3,646.9 L1240.1,647.9 L1241.8,648.9 L1243.6,649.9 L1245.3,650.9 L1247.0,651.9 L1248.7,652.9 L1250.5,653.9 L1252.2,654.9 L1253.9,656.0 L1255.6,657.0 L1257.3,658.1 L1259.0,659.1 L1260.7,660.2 L1262.4,661.2 L1264.1,662.3 L1265.8,663.3 L1267.5,664.4 L1269.1,665.5 L1270.8,666.6 L1272.5,667.7 L1274.2,668.8 L1275.8,669.9 L1277.5,671.0 L1279.1,672.1 L1280.8,673.2 L1282.4,674.3 L1284.1,675.5 L1285.7,676.6 L1287.4,677.7 L1289.0,678.9 L1290.7,680.0 L1292.3,681.2 L1293.9,682.4 L1295.5,683.5 L1297.1,684.7 L1298.8,685.9 L1300.4,687.1 L1302.0,688.2 L1303.6,689.4 L1305.2,690.6 L1306.8,691.8 L1308.4,693.0 L1310.0,694.2 L1311.5,695.5 L1313.1,696.7 L1314.7,697.9 L1316.3,699.1" stroke="#231f20" stroke-width="4.4" fill="none" stroke-linejoin="round" stroke-dashoffset="0.0"/>
</g>
<text class="cl" x="271.62" y="271.60">10<tspan font-size="16.67" dx="1.9" dy="-10.7">-4</tspan></text>
<text class="cl" x="271.62" y="399.00">10<tspan font-size="16.67" dx="1.9" dy="-10.7">-5</tspan></text>
<text class="cl" x="271.62" y="530.10">10<tspan font-size="16.67" dx="1.9" dy="-10.7">-6</tspan></text>
<text class="cl" x="271.62" y="660.90">10<tspan font-size="16.67" dx="1.9" dy="-10.7">-7</tspan></text>
<text class="cl" x="271.82" y="796.80">10<tspan font-size="16.67" dx="1.9" dy="-10.7">-8</tspan></text>
<text class="cx" transform="translate(327.75,820.05) scale(1,1.05)" text-anchor="middle">10</text>
<text class="cx" transform="translate(656.70,820.05) scale(1,1.05)" text-anchor="middle">100</text>
<text class="cx" transform="translate(982.80,820.05) scale(1,1.05)" text-anchor="middle">1000</text>
<text class="cx" transform="translate(1313.65,819.65) scale(1,1.05)" text-anchor="middle">10000</text>
<g filter="url(#ds)">
<text class="cb" transform="translate(246.95,421.25) rotate(-90)">|Z<tspan font-size="17" dy="6">тп-вл</tspan><tspan dy="-6">|, Ом/м</tspan></text>
<text class="cb" letter-spacing="0.045" x="780.83" y="863.35">Расстояние между осями трубопровода и ВЛ, м</text>
<text class="cb" x="446.15" y="927.25">– УЭС 10 Ом·м;</text>
<text class="cb" letter-spacing="-0.12" x="739.65" y="927.25">– УЭС 100 Ом·м;</text>
<text class="cb" letter-spacing="-0.13" x="1046.25" y="927.25">– УЭС 1000 Ом·м</text>
</g>
<path d="M355.8,920.6H435.2" stroke="#231f20" stroke-width="4.5" stroke-dasharray="12.2 4.7" fill="none"/>
<path d="M650.8,920.6H682.8M695.5,920.6H726.7" stroke="#231f20" stroke-width="4.5" fill="none"/>
<path d="M957.4,920.6H1035.7" stroke="#231f20" stroke-width="4.5" fill="none"/>
<text class="cap" x="787.2" y="991.6">Рисунок Е.8 — Взаимное магнитное сопротивление между трубопроводом и ВЛ на опоре У330-2 в нормальном</text>
<text class="cap" x="787.2" y="1022.8">режиме работы при различных УЭС грунта</text>
<path d="M427.56,1114.40V1638.40M485.56,1114.40V1638.40M526.72,1114.40V1638.40M558.64,1114.40V1638.40M584.72,1114.40V1638.40M606.78,1114.40V1638.40M625.88,1114.40V1638.40M642.73,1114.40V1638.40M757.32,1114.40V1638.40M815.54,1114.40V1638.40M856.84,1114.40V1638.40M888.88,1114.40V1638.40M915.06,1114.40V1638.40M937.19,1114.40V1638.40M956.36,1114.40V1638.40M973.27,1114.40V1638.40M1087.68,1114.40V1638.40M1145.75,1114.40V1638.40M1186.96,1114.40V1638.40M1218.92,1114.40V1638.40M1245.03,1114.40V1638.40M1267.11,1114.40V1638.40M1286.24,1114.40V1638.40M1303.11,1114.40V1638.40M328.40,1206.52H1318.20M328.40,1183.32H1318.20M328.40,1166.85H1318.20M328.40,1154.08H1318.20M328.40,1143.64H1318.20M328.40,1134.82H1318.20M328.40,1127.17H1318.20M328.40,1120.43H1318.20M328.40,1337.56H1318.20M328.40,1314.54H1318.20M328.40,1298.21H1318.20M328.40,1285.54H1318.20M328.40,1275.20H1318.20M328.40,1266.45H1318.20M328.40,1258.87H1318.20M328.40,1252.18H1318.20M328.40,1468.53H1318.20M328.40,1445.45H1318.20M328.40,1429.07H1318.20M328.40,1416.37H1318.20M328.40,1405.98H1318.20M328.40,1397.21H1318.20M328.40,1389.60H1318.20M328.40,1382.90H1318.20M328.40,1599.15H1318.20M328.40,1576.18H1318.20M328.40,1559.89H1318.20M328.40,1547.25H1318.20M328.40,1536.93H1318.20M328.40,1528.20H1318.20M328.40,1520.64H1318.20M328.40,1513.97H1318.20" stroke="#878787" stroke-width="1.12" fill="none"/>
<path d="M657.80,1114.40V1638.40M988.40,1114.40V1638.40M328.40,1246.20H1318.20M328.40,1376.90H1318.20M328.40,1508.00H1318.20" stroke="#333333" stroke-width="1.4" fill="none"/>
<path d="M327.75,1114.40H1318.70M328.40,1114.40V1638.40M327.75,1638.40H1318.70" stroke="#3a3a3a" stroke-width="1.35" fill="none"/>
<path d="M1318.20,1114.40V1638.40" stroke="#707070" stroke-width="1.15" fill="none"/>
<path d="M328.40,1638.40V1647.00M657.80,1638.40V1647.00M988.40,1638.40V1647.00M1318.20,1638.40V1647.00" stroke="#5a5a5a" stroke-width="1.3" fill="none"/>
<clipPath id="cl1114"><rect x="327.80" y="1111.40" width="992.40" height="527.70"/></clipPath>
<g clip-path="url(#cl1114)">
<path d="M328.5,1182.4 L330.4,1181.8 L332.2,1181.2 L334.1,1180.6 L336.0,1180.0 L337.9,1179.4 L339.8,1178.8 L341.7,1178.3 L343.6,1177.7 L345.5,1177.1 L347.4,1176.6 L349.3,1176.0 L351.2,1175.5 L353.2,1174.9 L355.1,1174.4 L357.0,1173.9 L358.9,1173.4 L360.8,1172.8 L362.8,1172.3 L364.7,1171.8 L366.6,1171.3 L368.6,1170.8 L370.5,1170.4 L372.5,1169.9 L374.4,1169.4 L376.4,1168.9 L378.3,1168.5 L380.3,1168.0 L382.2,1167.6 L384.2,1167.2 L386.1,1166.8 L388.1,1166.3 L390.1,1165.9 L392.0,1165.5 L394.0,1165.1 L396.0,1164.8 L397.9,1164.4 L399.9,1164.0 L401.9,1163.7 L403.8,1163.3 L405.8,1163.0 L407.8,1162.7 L409.8,1162.4 L411.8,1162.1 L413.7,1161.8 L415.7,1161.5 L417.7,1161.2 L419.7,1161.0 L421.7,1160.7 L423.7,1160.5 L425.6,1160.2 L427.6,1160.0 L429.6,1159.8 L431.6,1159.6 L433.6,1159.5 L435.6,1159.3 L437.6,1159.2 L439.6,1159.0 L441.6,1158.9 L443.6,1158.8 L445.6,1158.7 L447.5,1158.6 L449.5,1158.5 L451.5,1158.5 L453.5,1158.4 L455.5,1158.4 L457.5,1158.4 L459.5,1158.4 L461.5,1158.4 L463.5,1158.4 L465.5,1158.5 L467.5,1158.5 L469.5,1158.6 L471.5,1158.7 L473.4,1158.8 L475.4,1158.9 L477.4,1159.0 L479.4,1159.1 L481.4,1159.3 L483.4,1159.4 L485.4,1159.6 L487.4,1159.8 L489.3,1160.0 L491.3,1160.2 L493.3,1160.4 L495.3,1160.7 L497.3,1160.9 L499.2,1161.2 L501.2,1161.5 L503.2,1161.8 L505.1,1162.1 L507.1,1162.5 L509.1,1162.8 L511.0,1163.2 L513.0,1163.6 L514.9,1164.0 L516.9,1164.4 L518.8,1164.8 L520.8,1165.2 L522.7,1165.7 L524.7,1166.1 L526.6,1166.6 L528.5,1167.1 L530.5,1167.6 L532.4,1168.1 L534.3,1168.7 L536.2,1169.2 L538.2,1169.7 L540.1,1170.3 L542.0,1170.9 L543.9,1171.4 L545.8,1172.0 L547.7,1172.6 L549.6,1173.2 L551.5,1173.9 L553.4,1174.5 L555.3,1175.1 L557.2,1175.7 L559.1,1176.4 L561.0,1177.0 L562.9,1177.7 L564.8,1178.4 L566.7,1179.0 L568.5,1179.7 L570.4,1180.4 L572.3,1181.0 L574.2,1181.7 L576.1,1182.4 L577.9,1183.1 L579.8,1183.8 L581.7,1184.5 L583.5,1185.2 L585.4,1185.9 L587.3,1186.6 L589.1,1187.4 L591.0,1188.1 L592.9,1188.8 L594.7,1189.5 L596.6,1190.3 L598.5,1191.0 L600.3,1191.7 L602.2,1192.4 L604.0,1193.2 L605.9,1193.9 L607.8,1194.6 L609.6,1195.4 L611.5,1196.1 L613.3,1196.8 L615.2,1197.6 L617.1,1198.3 L618.9,1199.0 L620.8,1199.8 L622.6,1200.5 L624.5,1201.2 L626.4,1202.0 L628.2,1202.7 L630.1,1203.5 L631.9,1204.2 L633.8,1204.9 L635.6,1205.7 L637.5,1206.4 L639.4,1207.2 L641.2,1207.9 L643.1,1208.6 L644.9,1209.4 L646.8,1210.1 L648.7,1210.8 L650.5,1211.5 L652.4,1212.3 L654.2,1213.0 L656.1,1213.7 L658.0,1214.5 L659.8,1215.2 L661.7,1215.9 L663.5,1216.6 L665.4,1217.4 L667.3,1218.1 L669.1,1218.9 L671.0,1219.6 L672.8,1220.4 L674.7,1221.1 L676.5,1221.9 L678.4,1222.6 L680.2,1223.4 L682.1,1224.1 L683.9,1224.9 L685.8,1225.7 L687.6,1226.5 L689.4,1227.2 L691.3,1228.0 L693.1,1228.8 L694.9,1229.6 L696.8,1230.4 L698.6,1231.2 L700.4,1232.0 L702.3,1232.8 L704.1,1233.6 L705.9,1234.4 L707.7,1235.3 L709.5,1236.1 L711.4,1236.9 L713.2,1237.8 L715.0,1238.6 L716.8,1239.5 L718.6,1240.3 L720.4,1241.2 L722.2,1242.0 L724.0,1242.9 L725.8,1243.8 L727.6,1244.7 L729.4,1245.6 L731.2,1246.5 L732.9,1247.4 L734.7,1248.3 L736.5,1249.2 L738.3,1250.1 L740.0,1251.0 L741.8,1252.0 L743.5,1252.9 L745.3,1253.9 L747.0,1254.8 L748.8,1255.8 L750.5,1256.8 L752.3,1257.7 L754.0,1258.7 L755.8,1259.7 L757.5,1260.7 L759.2,1261.7 L760.9,1262.7 L762.7,1263.7 L764.4,1264.7 L766.1,1265.8 L767.8,1266.8 L769.5,1267.8 L771.2,1268.8 L773.0,1269.9 L774.7,1270.9 L776.4,1272.0 L778.1,1273.0 L779.7,1274.1 L781.4,1275.1 L783.1,1276.2 L784.8,1277.3 L786.5,1278.4 L788.2,1279.5 L789.8,1280.6 L791.5,1281.7 L793.2,1282.8 L794.8,1283.9 L796.5,1285.0 L798.2,1286.1 L799.8,1287.2 L801.5,1288.3 L803.1,1289.5 L804.8,1290.6 L806.4,1291.7 L808.1,1292.9 L809.7,1294.0 L811.3,1295.1 L813.0,1296.3 L814.6,1297.4 L816.2,1298.6 L817.9,1299.8 L819.5,1300.9 L821.1,1302.1 L822.7,1303.3 L824.3,1304.5 L825.9,1305.6 L827.5,1306.8 L829.1,1308.0 L830.7,1309.2 L832.3,1310.4 L833.9,1311.6 L835.5,1312.8 L837.1,1314.1 L838.7,1315.3 L840.3,1316.5 L841.9,1317.7 L843.4,1318.9 L845.0,1320.2 L846.6,1321.4 L848.2,1322.6 L849.7,1323.9 L851.3,1325.1 L852.9,1326.3 L854.4,1327.6 L856.0,1328.8 L857.6,1330.1 L859.1,1331.3 L860.7,1332.6 L862.2,1333.9 L863.8,1335.1 L865.3,1336.4 L866.8,1337.7 L868.4,1338.9 L869.9,1340.2 L871.4,1341.5 L873.0,1342.8 L874.5,1344.1 L876.0,1345.4 L877.5,1346.7 L879.0,1348.0 L880.5,1349.3 L882.0,1350.6 L883.5,1351.9 L885.0,1353.3 L886.5,1354.6 L888.0,1355.9 L889.5,1357.3 L891.0,1358.6 L892.5,1360.0 L893.9,1361.3 L895.4,1362.7 L896.9,1364.0 L898.3,1365.4 L899.8,1366.7 L901.3,1368.1 L902.7,1369.5 L904.2,1370.8 L905.6,1372.2 L907.1,1373.6 L908.5,1375.0 L909.9,1376.4 L911.4,1377.7 L912.8,1379.1 L914.2,1380.5 L915.7,1381.9 L917.1,1383.3 L918.5,1384.8 L919.9,1386.2 L921.3,1387.6 L922.7,1389.0 L924.1,1390.4 L925.5,1391.8 L926.9,1393.3 L928.3,1394.7 L929.7,1396.1 L931.1,1397.6 L932.5,1399.0 L933.9,1400.5 L935.2,1401.9 L936.6,1403.3 L938.0,1404.8 L939.4,1406.2 L940.7,1407.7 L942.1,1409.1 L943.5,1410.6 L944.8,1412.1 L946.2,1413.5 L947.6,1415.0 L948.9,1416.5 L950.3,1417.9 L951.6,1419.4 L953.0,1420.9 L954.3,1422.3 L955.7,1423.8 L957.0,1425.3 L958.4,1426.7 L959.7,1428.2 L961.1,1429.7 L962.4,1431.2 L963.8,1432.7 L965.1,1434.1 L966.5,1435.6 L967.8,1437.1 L969.2,1438.6 L970.5,1440.0 L971.9,1441.5 L973.2,1443.0 L974.6,1444.4 L975.9,1445.9 L977.3,1447.4 L978.6,1448.8 L980.0,1450.3 L981.4,1451.8 L982.7,1453.2 L984.1,1454.7 L985.4,1456.2 L986.8,1457.6 L988.2,1459.1 L989.5,1460.5 L990.9,1462.0 L992.3,1463.5 L993.6,1464.9 L995.0,1466.4 L996.4,1467.8 L997.7,1469.3 L999.1,1470.7 L1000.5,1472.2 L1001.8,1473.7 L1003.2,1475.1 L1004.5,1476.6 L1005.9,1478.1 L1007.3,1479.5 L1008.6,1481.0 L1010.0,1482.5 L1011.3,1483.9 L1012.7,1485.4 L1014.0,1486.9 L1015.4,1488.3 L1016.7,1489.8 L1018.1,1491.3 L1019.4,1492.7 L1020.8,1494.2 L1022.1,1495.7 L1023.5,1497.2 L1024.8,1498.6 L1026.2,1500.1 L1027.5,1501.6 L1028.9,1503.1 L1030.2,1504.6 L1031.5,1506.1 L1032.9,1507.5 L1034.2,1509.0 L1035.5,1510.5 L1036.8,1512.0 L1038.1,1513.5 L1039.5,1515.0 L1040.8,1516.5 L1042.1,1518.0 L1043.4,1519.5 L1044.7,1521.1 L1046.0,1522.6 L1047.3,1524.1 L1048.6,1525.6 L1049.9,1527.1 L1051.2,1528.6 L1052.5,1530.2 L1053.8,1531.7 L1055.1,1533.2 L1056.4,1534.7 L1057.6,1536.3 L1058.9,1537.8 L1060.2,1539.3 L1061.5,1540.9 L1062.7,1542.4 L1064.0,1544.0 L1065.3,1545.5 L1066.6,1547.0 L1067.8,1548.6 L1069.1,1550.1 L1070.3,1551.7 L1071.6,1553.2 L1072.9,1554.8 L1074.1,1556.4 L1075.4,1557.9 L1076.6,1559.5 L1077.9,1561.0 L1079.1,1562.6 L1080.3,1564.2 L1081.6,1565.7 L1082.9,1567.3 L1084.1,1568.8 L1085.4,1570.4 L1086.6,1572.0 L1087.9,1573.5 L1089.1,1575.1 L1090.4,1576.6 L1091.6,1578.2 L1092.9,1579.7 L1094.2,1581.3 L1095.4,1582.8 L1096.7,1584.4 L1098.0,1585.9 L1099.2,1587.5 L1100.5,1589.0 L1101.8,1590.6 L1103.0,1592.1 L1104.3,1593.6 L1105.6,1595.2 L1106.9,1596.7 L1108.1,1598.2 L1109.4,1599.8 L1110.7,1601.3 L1112.0,1602.8 L1113.3,1604.3 L1114.6,1605.9 L1115.9,1607.4 L1117.2,1608.9 L1118.5,1610.4 L1119.8,1611.9 L1121.1,1613.4 L1122.4,1614.9 L1123.7,1616.4 L1125.1,1617.9 L1126.4,1619.4 L1127.7,1620.9 L1129.1,1622.4 L1130.4,1623.9 L1131.7,1625.3 L1133.1,1626.8 L1134.4,1628.3 L1135.8,1629.7 L1137.2,1631.2 L1138.5,1632.7 L1139.9,1634.1 L1141.3,1635.6 L1142.7,1637.0 L1144.1,1638.4 L1144.8,1639.2" stroke="#231f20" stroke-width="4.4" fill="none" stroke-linejoin="round" stroke-linecap="round" stroke-dasharray="7.5 8.5" stroke-dashoffset="-2.2"/>
<path d="M328.5,1182.0 L330.4,1181.4 L332.3,1180.8 L334.1,1180.2 L336.0,1179.6 L337.9,1179.0 L339.8,1178.4 L341.7,1177.9 L343.6,1177.3 L345.5,1176.7 L347.4,1176.2 L349.3,1175.6 L351.3,1175.1 L353.2,1174.5 L355.1,1174.0 L357.0,1173.4 L358.9,1172.9 L360.9,1172.4 L362.8,1171.9 L364.7,1171.4 L366.7,1170.9 L368.6,1170.4 L370.6,1169.9 L372.5,1169.4 L374.5,1169.0 L376.4,1168.5 L378.4,1168.1 L380.3,1167.6 L382.3,1167.2 L384.2,1166.7 L386.2,1166.3 L388.1,1165.9 L390.1,1165.5 L392.1,1165.1 L394.0,1164.7 L396.0,1164.4 L398.0,1164.0 L400.0,1163.6 L401.9,1163.3 L403.9,1162.9 L405.9,1162.6 L407.9,1162.3 L409.8,1162.0 L411.8,1161.7 L413.8,1161.4 L415.8,1161.1 L417.8,1160.9 L419.8,1160.6 L421.8,1160.4 L423.7,1160.1 L425.7,1159.9 L427.7,1159.7 L429.7,1159.5 L431.7,1159.3 L433.7,1159.2 L435.7,1159.0 L437.7,1158.8 L439.7,1158.7 L441.7,1158.6 L443.7,1158.5 L445.7,1158.4 L447.7,1158.3 L449.6,1158.3 L451.6,1158.2 L453.6,1158.2 L455.6,1158.1 L457.6,1158.1 L459.6,1158.1 L461.6,1158.2 L463.6,1158.2 L465.6,1158.3 L467.6,1158.3 L469.6,1158.4 L471.6,1158.5 L473.6,1158.6 L475.6,1158.7 L477.6,1158.8 L479.5,1158.9 L481.5,1159.1 L483.5,1159.2 L485.5,1159.4 L487.5,1159.6 L489.5,1159.8 L491.5,1160.0 L493.5,1160.3 L495.4,1160.5 L497.4,1160.8 L499.4,1161.1 L501.4,1161.4 L503.3,1161.7 L505.3,1162.0 L507.3,1162.3 L509.2,1162.7 L511.2,1163.0 L513.1,1163.4 L515.1,1163.8 L517.1,1164.2 L519.0,1164.6 L521.0,1165.1 L522.9,1165.5 L524.8,1166.0 L526.8,1166.5 L528.7,1167.0 L530.6,1167.5 L532.6,1168.0 L534.5,1168.5 L536.4,1169.0 L538.4,1169.6 L540.3,1170.1 L542.2,1170.7 L544.1,1171.3 L546.0,1171.9 L547.9,1172.5 L549.8,1173.1 L551.7,1173.7 L553.6,1174.3 L555.5,1174.9 L557.4,1175.6 L559.3,1176.2 L561.2,1176.8 L563.1,1177.5 L565.0,1178.2 L566.9,1178.8 L568.8,1179.5 L570.7,1180.2 L572.5,1180.8 L574.4,1181.5 L576.3,1182.2 L578.2,1182.9 L580.1,1183.6 L581.9,1184.3 L583.8,1185.0 L585.7,1185.7 L587.5,1186.4 L589.4,1187.1 L591.3,1187.9 L593.1,1188.6 L595.0,1189.3 L596.9,1190.0 L598.7,1190.7 L600.6,1191.5 L602.5,1192.2 L604.3,1192.9 L606.2,1193.7 L608.0,1194.4 L609.9,1195.2 L611.8,1195.9 L613.6,1196.6 L615.5,1197.4 L617.3,1198.1 L619.2,1198.9 L621.1,1199.6 L622.9,1200.3 L624.8,1201.1 L626.6,1201.8 L628.5,1202.6 L630.3,1203.3 L632.2,1204.0 L634.1,1204.8 L635.9,1205.5 L637.8,1206.2 L639.6,1207.0 L641.5,1207.7 L643.4,1208.4 L645.2,1209.2 L647.1,1209.9 L649.0,1210.6 L650.8,1211.3 L652.7,1212.0 L654.6,1212.7 L656.4,1213.5 L658.3,1214.2 L660.2,1214.9 L662.1,1215.6 L663.9,1216.3 L665.8,1217.0 L667.7,1217.7 L669.5,1218.3 L671.4,1219.0 L673.3,1219.7 L675.2,1220.4 L677.1,1221.1 L678.9,1221.8 L680.8,1222.5 L682.7,1223.2 L684.6,1223.9 L686.4,1224.5 L688.3,1225.2 L690.2,1225.9 L692.1,1226.6 L694.0,1227.2 L695.9,1227.9 L697.7,1228.6 L699.6,1229.3 L701.5,1229.9 L703.4,1230.6 L705.3,1231.3 L707.2,1232.0 L709.0,1232.6 L710.9,1233.3 L712.8,1234.0 L714.7,1234.7 L716.6,1235.3 L718.4,1236.0 L720.3,1236.7 L722.2,1237.4 L724.1,1238.0 L726.0,1238.7 L727.9,1239.4 L729.7,1240.1 L731.6,1240.7 L733.5,1241.4 L735.4,1242.1 L737.3,1242.8 L739.2,1243.4 L741.0,1244.1 L742.9,1244.8 L744.8,1245.5 L746.7,1246.1 L748.6,1246.8 L750.4,1247.5 L752.3,1248.2 L754.2,1248.9 L756.1,1249.6 L757.9,1250.3 L759.8,1251.0 L761.7,1251.7 L763.6,1252.4 L765.4,1253.1 L767.3,1253.8 L769.2,1254.5 L771.0,1255.2 L772.9,1256.0 L774.8,1256.7 L776.6,1257.4 L778.5,1258.1 L780.3,1258.9 L782.2,1259.6 L784.1,1260.4 L785.9,1261.1 L787.8,1261.8 L789.6,1262.6 L791.5,1263.4 L793.3,1264.1 L795.2,1264.9 L797.0,1265.7 L798.8,1266.4 L800.7,1267.2 L802.5,1268.0 L804.4,1268.8 L806.2,1269.6 L808.0,1270.4 L809.9,1271.2 L811.7,1272.0 L813.5,1272.8 L815.4,1273.6 L817.2,1274.4 L819.0,1275.2 L820.8,1276.0 L822.7,1276.8 L824.5,1277.7 L826.3,1278.5 L828.1,1279.3 L829.9,1280.1 L831.8,1281.0 L833.6,1281.8 L835.4,1282.7 L837.2,1283.5 L839.0,1284.4 L840.8,1285.2 L842.6,1286.1 L844.4,1286.9 L846.2,1287.8 L848.0,1288.7 L849.8,1289.5 L851.6,1290.4 L853.4,1291.3 L855.2,1292.1 L857.0,1293.0 L858.8,1293.9 L860.6,1294.8 L862.4,1295.6 L864.2,1296.5 L866.0,1297.4 L867.8,1298.3 L869.6,1299.2 L871.4,1300.1 L873.2,1301.0 L874.9,1301.9 L876.7,1302.8 L878.5,1303.7 L880.3,1304.7 L882.0,1305.6 L883.8,1306.5 L885.6,1307.5 L887.4,1308.4 L889.1,1309.3 L890.9,1310.3 L892.7,1311.2 L894.4,1312.1 L896.2,1313.1 L897.9,1314.0 L899.7,1315.0 L901.5,1315.9 L903.2,1316.9 L905.0,1317.9 L906.7,1318.8 L908.5,1319.8 L910.2,1320.8 L912.0,1321.7 L913.7,1322.7 L915.4,1323.7 L917.2,1324.7 L918.9,1325.7 L920.6,1326.7 L922.4,1327.7 L924.1,1328.7 L925.8,1329.7 L927.5,1330.7 L929.3,1331.7 L931.0,1332.8 L932.7,1333.8 L934.4,1334.8 L936.1,1335.9 L937.8,1336.9 L939.5,1337.9 L941.2,1339.0 L942.9,1340.0 L944.6,1341.1 L946.3,1342.1 L948.0,1343.2 L949.7,1344.3 L951.4,1345.3 L953.1,1346.4 L954.8,1347.5 L956.4,1348.6 L958.1,1349.7 L959.8,1350.8 L961.4,1351.9 L963.1,1353.0 L964.8,1354.1 L966.4,1355.2 L968.1,1356.4 L969.7,1357.5 L971.4,1358.6 L973.0,1359.7 L974.7,1360.9 L976.3,1362.0 L977.9,1363.2 L979.6,1364.3 L981.2,1365.5 L982.8,1366.6 L984.5,1367.8 L986.1,1369.0 L987.7,1370.2 L989.3,1371.3 L990.9,1372.5 L992.5,1373.7 L994.1,1374.9 L995.7,1376.1 L997.3,1377.3 L998.9,1378.6 L1000.5,1379.8 L1002.0,1381.0 L1003.6,1382.2 L1005.2,1383.4 L1006.8,1384.7 L1008.3,1385.9 L1009.9,1387.1 L1011.5,1388.4 L1013.1,1389.6 L1014.6,1390.9 L1016.2,1392.1 L1017.7,1393.4 L1019.3,1394.6 L1020.8,1395.9 L1022.4,1397.2 L1023.9,1398.4 L1025.5,1399.7 L1027.0,1401.0 L1028.5,1402.3 L1030.0,1403.6 L1031.6,1404.9 L1033.1,1406.2 L1034.6,1407.5 L1036.1,1408.8 L1037.6,1410.1 L1039.1,1411.4 L1040.6,1412.8 L1042.1,1414.1 L1043.6,1415.4 L1045.1,1416.7 L1046.6,1418.1 L1048.1,1419.4 L1049.6,1420.7 L1051.0,1422.1 L1052.5,1423.4 L1054.0,1424.8 L1055.5,1426.1 L1056.9,1427.5 L1058.4,1428.8 L1059.9,1430.2 L1061.3,1431.6 L1062.8,1432.9 L1064.2,1434.3 L1065.7,1435.7 L1067.1,1437.1 L1068.6,1438.5 L1070.0,1439.8 L1071.4,1441.2 L1072.9,1442.6 L1074.3,1444.0 L1075.8,1445.4 L1077.2,1446.8 L1078.6,1448.2 L1080.1,1449.6 L1081.5,1451.0 L1082.9,1452.4 L1084.3,1453.8 L1085.8,1455.2 L1087.2,1456.6 L1088.6,1458.0 L1090.0,1459.4 L1091.4,1460.8 L1092.8,1462.2 L1094.2,1463.7 L1095.6,1465.1 L1097.0,1466.5 L1098.4,1467.9 L1099.8,1469.4 L1101.2,1470.8 L1102.6,1472.2 L1104.0,1473.7 L1105.4,1475.1 L1106.8,1476.5 L1108.2,1478.0 L1109.6,1479.4 L1111.0,1480.8 L1112.4,1482.3 L1113.8,1483.7 L1115.1,1485.2 L1116.5,1486.6 L1117.9,1488.1 L1119.3,1489.5 L1120.6,1491.0 L1122.0,1492.4 L1123.4,1493.9 L1124.7,1495.3 L1126.1,1496.8 L1127.5,1498.3 L1128.8,1499.7 L1130.2,1501.2 L1131.6,1502.6 L1132.9,1504.1 L1134.3,1505.6 L1135.7,1507.0 L1137.0,1508.5 L1138.4,1509.9 L1139.8,1511.4 L1141.2,1512.8 L1142.5,1514.3 L1143.9,1515.8 L1145.3,1517.2 L1146.6,1518.7 L1148.0,1520.2 L1149.3,1521.6 L1150.7,1523.1 L1152.0,1524.6 L1153.4,1526.0 L1154.7,1527.5 L1156.1,1529.0 L1157.4,1530.5 L1158.8,1532.0 L1160.1,1533.4 L1161.4,1534.9 L1162.8,1536.4 L1164.1,1537.9 L1165.5,1539.4 L1166.8,1540.8 L1168.2,1542.3 L1169.5,1543.8 L1170.8,1545.3 L1172.2,1546.8 L1173.5,1548.3 L1174.9,1549.7 L1176.2,1551.2 L1177.5,1552.7 L1178.9,1554.2 L1180.2,1555.7 L1181.5,1557.2 L1182.9,1558.7 L1184.2,1560.2 L1185.5,1561.7 L1186.8,1563.2 L1188.1,1564.7 L1189.5,1566.2 L1190.8,1567.7 L1192.1,1569.1 L1193.4,1570.6 L1194.8,1572.1 L1196.1,1573.6 L1197.4,1575.1 L1198.7,1576.6 L1200.1,1578.1 L1201.4,1579.6 L1202.7,1581.1 L1204.0,1582.6 L1205.3,1584.1 L1206.6,1585.7 L1208.0,1587.2 L1209.3,1588.7 L1210.6,1590.2 L1211.9,1591.7 L1213.2,1593.2 L1214.5,1594.7 L1215.8,1596.2 L1217.1,1597.7 L1218.5,1599.2 L1219.8,1600.7 L1221.1,1602.2 L1222.4,1603.7 L1223.7,1605.3 L1225.0,1606.8 L1226.3,1608.3 L1227.6,1609.8 L1228.9,1611.3 L1230.2,1612.8 L1231.5,1614.3 L1232.8,1615.9 L1234.1,1617.4 L1235.4,1618.9 L1236.7,1620.4 L1238.0,1621.9 L1239.3,1623.4 L1240.6,1625.0 L1241.9,1626.5 L1243.2,1628.0 L1244.5,1629.5 L1245.8,1631.0 L1247.1,1632.6 L1248.4,1634.1 L1249.7,1635.6 L1251.0,1637.1 L1252.3,1638.6" stroke="#231f20" stroke-width="4.4" fill="none" stroke-linejoin="round" stroke-linecap="round" stroke-dasharray="26.1 18.1" stroke-dashoffset="0.8"/>
<path d="M328.5,1181.6 L330.4,1180.9 L332.3,1180.3 L334.1,1179.7 L336.0,1179.1 L337.9,1178.5 L339.8,1177.9 L341.7,1177.4 L343.6,1176.8 L345.5,1176.2 L347.4,1175.7 L349.3,1175.1 L351.2,1174.5 L353.2,1174.0 L355.1,1173.5 L357.0,1172.9 L358.9,1172.4 L360.9,1171.9 L362.8,1171.4 L364.7,1170.9 L366.7,1170.4 L368.6,1169.9 L370.5,1169.4 L372.5,1168.9 L374.4,1168.4 L376.4,1168.0 L378.3,1167.5 L380.3,1167.1 L382.2,1166.7 L384.2,1166.2 L386.2,1165.8 L388.1,1165.4 L390.1,1165.0 L392.1,1164.6 L394.0,1164.2 L396.0,1163.9 L398.0,1163.5 L399.9,1163.2 L401.9,1162.8 L403.9,1162.5 L405.9,1162.1 L407.8,1161.8 L409.8,1161.5 L411.8,1161.2 L413.8,1161.0 L415.8,1160.7 L417.8,1160.4 L419.7,1160.2 L421.7,1159.9 L423.7,1159.7 L425.7,1159.5 L427.7,1159.3 L429.7,1159.1 L431.7,1158.9 L433.7,1158.7 L435.7,1158.6 L437.7,1158.5 L439.7,1158.3 L441.6,1158.2 L443.6,1158.1 L445.6,1158.0 L447.6,1157.9 L449.6,1157.9 L451.6,1157.8 L453.6,1157.8 L455.6,1157.8 L457.6,1157.8 L459.6,1157.8 L461.6,1157.8 L463.6,1157.9 L465.6,1157.9 L467.6,1158.0 L469.6,1158.1 L471.6,1158.1 L473.5,1158.2 L475.5,1158.4 L477.5,1158.5 L479.5,1158.6 L481.5,1158.8 L483.5,1158.9 L485.5,1159.1 L487.5,1159.3 L489.5,1159.5 L491.4,1159.8 L493.4,1160.0 L495.4,1160.2 L497.4,1160.5 L499.4,1160.8 L501.3,1161.1 L503.3,1161.4 L505.3,1161.7 L507.2,1162.0 L509.2,1162.4 L511.2,1162.8 L513.1,1163.1 L515.1,1163.5 L517.0,1163.9 L519.0,1164.4 L520.9,1164.8 L522.9,1165.2 L524.8,1165.7 L526.7,1166.2 L528.7,1166.6 L530.6,1167.1 L532.5,1167.6 L534.5,1168.2 L536.4,1168.7 L538.3,1169.2 L540.2,1169.8 L542.2,1170.4 L544.1,1170.9 L546.0,1171.5 L547.9,1172.1 L549.8,1172.7 L551.7,1173.3 L553.6,1173.9 L555.5,1174.6 L557.4,1175.2 L559.3,1175.8 L561.2,1176.5 L563.1,1177.1 L565.0,1177.8 L566.9,1178.4 L568.8,1179.1 L570.6,1179.8 L572.5,1180.4 L574.4,1181.1 L576.3,1181.8 L578.2,1182.5 L580.0,1183.2 L581.9,1183.9 L583.8,1184.6 L585.7,1185.3 L587.5,1186.0 L589.4,1186.7 L591.3,1187.4 L593.1,1188.1 L595.0,1188.8 L596.9,1189.6 L598.7,1190.3 L600.6,1191.0 L602.5,1191.8 L604.3,1192.5 L606.2,1193.2 L608.0,1193.9 L609.9,1194.7 L611.8,1195.4 L613.6,1196.2 L615.5,1196.9 L617.3,1197.6 L619.2,1198.4 L621.1,1199.1 L622.9,1199.8 L624.8,1200.6 L626.6,1201.3 L628.5,1202.1 L630.4,1202.8 L632.2,1203.5 L634.1,1204.3 L635.9,1205.0 L637.8,1205.7 L639.6,1206.5 L641.5,1207.2 L643.4,1207.9 L645.2,1208.7 L647.1,1209.4 L649.0,1210.1 L650.8,1210.8 L652.7,1211.5 L654.6,1212.3 L656.4,1213.0 L658.3,1213.7 L660.2,1214.4 L662.1,1215.1 L663.9,1215.8 L665.8,1216.5 L667.7,1217.1 L669.6,1217.8 L671.4,1218.5 L673.3,1219.2 L675.2,1219.9 L677.1,1220.6 L678.9,1221.3 L680.8,1221.9 L682.7,1222.6 L684.6,1223.3 L686.5,1223.9 L688.4,1224.6 L690.2,1225.3 L692.1,1225.9 L694.0,1226.6 L695.9,1227.3 L697.8,1227.9 L699.7,1228.6 L701.6,1229.2 L703.5,1229.9 L705.3,1230.5 L707.2,1231.2 L709.1,1231.8 L711.0,1232.5 L712.9,1233.1 L714.8,1233.8 L716.7,1234.4 L718.6,1235.1 L720.5,1235.8 L722.4,1236.4 L724.2,1237.1 L726.1,1237.7 L728.0,1238.4 L729.9,1239.0 L731.8,1239.7 L733.7,1240.3 L735.6,1241.0 L737.5,1241.6 L739.3,1242.3 L741.2,1243.0 L743.1,1243.6 L745.0,1244.3 L746.9,1245.0 L748.8,1245.6 L750.7,1246.3 L752.5,1247.0 L754.4,1247.6 L756.3,1248.3 L758.2,1249.0 L760.0,1249.7 L761.9,1250.4 L763.8,1251.1 L765.7,1251.8 L767.5,1252.5 L769.4,1253.2 L771.3,1253.9 L773.2,1254.6 L775.0,1255.3 L776.9,1256.0 L778.8,1256.7 L780.6,1257.4 L782.5,1258.1 L784.4,1258.8 L786.2,1259.6 L788.1,1260.3 L789.9,1261.0 L791.8,1261.7 L793.7,1262.5 L795.5,1263.2 L797.4,1263.9 L799.2,1264.7 L801.1,1265.4 L803.0,1266.1 L804.8,1266.9 L806.7,1267.6 L808.5,1268.4 L810.4,1269.1 L812.2,1269.9 L814.1,1270.6 L815.9,1271.4 L817.8,1272.1 L819.6,1272.9 L821.5,1273.6 L823.3,1274.4 L825.2,1275.2 L827.0,1275.9 L828.9,1276.7 L830.8,1277.4 L832.6,1278.2 L834.5,1278.9 L836.3,1279.7 L838.2,1280.4 L840.0,1281.2 L841.9,1281.9 L843.7,1282.6 L845.6,1283.4 L847.4,1284.1 L849.3,1284.9 L851.2,1285.6 L853.0,1286.4 L854.9,1287.1 L856.7,1287.8 L858.6,1288.6 L860.4,1289.3 L862.3,1290.1 L864.2,1290.8 L866.0,1291.6 L867.9,1292.3 L869.7,1293.1 L871.6,1293.8 L873.4,1294.5 L875.3,1295.3 L877.1,1296.0 L879.0,1296.8 L880.8,1297.5 L882.7,1298.3 L884.5,1299.0 L886.4,1299.8 L888.2,1300.5 L890.1,1301.3 L892.0,1302.1 L893.8,1302.8 L895.7,1303.6 L897.5,1304.3 L899.4,1305.1 L901.2,1305.8 L903.1,1306.6 L904.9,1307.4 L906.7,1308.1 L908.6,1308.9 L910.4,1309.7 L912.3,1310.4 L914.1,1311.2 L916.0,1312.0 L917.8,1312.8 L919.7,1313.5 L921.5,1314.3 L923.3,1315.1 L925.2,1315.9 L927.0,1316.7 L928.8,1317.5 L930.7,1318.3 L932.5,1319.1 L934.3,1319.9 L936.2,1320.7 L938.0,1321.5 L939.8,1322.3 L941.7,1323.1 L943.5,1323.9 L945.3,1324.7 L947.1,1325.5 L948.9,1326.4 L950.8,1327.2 L952.6,1328.0 L954.4,1328.8 L956.2,1329.7 L958.0,1330.5 L959.9,1331.3 L961.7,1332.2 L963.5,1333.0 L965.3,1333.8 L967.1,1334.7 L968.9,1335.5 L970.8,1336.3 L972.6,1337.2 L974.4,1338.0 L976.2,1338.9 L978.0,1339.7 L979.8,1340.5 L981.6,1341.4 L983.5,1342.2 L985.3,1343.1 L987.1,1343.9 L988.9,1344.8 L990.7,1345.6 L992.5,1346.5 L994.3,1347.3 L996.1,1348.2 L997.9,1349.1 L999.7,1349.9 L1001.5,1350.8 L1003.3,1351.6 L1005.1,1352.5 L1006.9,1353.4 L1008.7,1354.2 L1010.5,1355.1 L1012.3,1356.0 L1014.1,1356.8 L1015.9,1357.7 L1017.7,1358.6 L1019.5,1359.4 L1021.3,1360.3 L1023.1,1361.2 L1024.9,1362.1 L1026.7,1362.9 L1028.5,1363.8 L1030.3,1364.7 L1032.1,1365.6 L1033.9,1366.5 L1035.7,1367.4 L1037.5,1368.2 L1039.3,1369.1 L1041.1,1370.0 L1042.9,1370.9 L1044.7,1371.8 L1046.5,1372.7 L1048.2,1373.6 L1050.0,1374.5 L1051.8,1375.4 L1053.6,1376.3 L1055.4,1377.2 L1057.2,1378.1 L1059.0,1379.0 L1060.8,1379.9 L1062.5,1380.8 L1064.3,1381.7 L1066.1,1382.6 L1067.9,1383.5 L1069.7,1384.4 L1071.4,1385.3 L1073.2,1386.3 L1075.0,1387.2 L1076.7,1388.1 L1078.5,1389.0 L1080.3,1390.0 L1082.0,1390.9 L1083.8,1391.9 L1085.6,1392.8 L1087.3,1393.8 L1089.1,1394.8 L1090.8,1395.7 L1092.5,1396.7 L1094.3,1397.7 L1096.0,1398.7 L1097.7,1399.7 L1099.5,1400.7 L1101.2,1401.7 L1102.9,1402.7 L1104.6,1403.7 L1106.3,1404.8 L1108.1,1405.8 L1109.8,1406.8 L1111.5,1407.9 L1113.2,1408.9 L1114.9,1410.0 L1116.5,1411.1 L1118.2,1412.1 L1119.9,1413.2 L1121.6,1414.3 L1123.3,1415.4 L1124.9,1416.4 L1126.6,1417.5 L1128.3,1418.6 L1129.9,1419.7 L1131.6,1420.9 L1133.3,1422.0 L1134.9,1423.1 L1136.6,1424.2 L1138.2,1425.4 L1139.8,1426.5 L1141.5,1427.6 L1143.1,1428.8 L1144.7,1430.0 L1146.4,1431.1 L1148.0,1432.3 L1149.6,1433.5 L1151.2,1434.7 L1152.8,1435.9 L1154.4,1437.1 L1156.0,1438.3 L1157.6,1439.5 L1159.2,1440.7 L1160.7,1441.9 L1162.3,1443.1 L1163.9,1444.4 L1165.5,1445.6 L1167.0,1446.8 L1168.6,1448.1 L1170.2,1449.3 L1171.7,1450.6 L1173.3,1451.8 L1174.9,1453.1 L1176.4,1454.3 L1178.0,1455.6 L1179.5,1456.8 L1181.1,1458.1 L1182.6,1459.4 L1184.2,1460.6 L1185.7,1461.9 L1187.3,1463.2 L1188.8,1464.4 L1190.4,1465.7 L1191.9,1467.0 L1193.4,1468.3 L1195.0,1469.6 L1196.5,1470.9 L1198.0,1472.1 L1199.6,1473.4 L1201.1,1474.7 L1202.6,1476.0 L1204.1,1477.3 L1205.7,1478.6 L1207.2,1479.9 L1208.7,1481.2 L1210.2,1482.5 L1211.7,1483.8 L1213.2,1485.1 L1214.7,1486.5 L1216.2,1487.8 L1217.7,1489.1 L1219.2,1490.4 L1220.7,1491.7 L1222.2,1493.1 L1223.7,1494.4 L1225.2,1495.7 L1226.7,1497.1 L1228.2,1498.4 L1229.7,1499.8 L1231.1,1501.1 L1232.6,1502.4 L1234.1,1503.8 L1235.6,1505.2 L1237.0,1506.5 L1238.5,1507.9 L1239.9,1509.2 L1241.4,1510.6 L1242.8,1512.0 L1244.3,1513.4 L1245.7,1514.7 L1247.2,1516.1 L1248.6,1517.5 L1250.1,1518.9 L1251.5,1520.3 L1252.9,1521.7 L1254.4,1523.1 L1255.8,1524.5 L1257.2,1525.9 L1258.6,1527.3 L1260.1,1528.7 L1261.5,1530.1 L1262.9,1531.5 L1264.3,1532.9 L1265.7,1534.3 L1267.1,1535.8 L1268.5,1537.2 L1269.9,1538.6 L1271.3,1540.0 L1272.7,1541.5 L1274.1,1542.9 L1275.5,1544.4 L1276.9,1545.8 L1278.2,1547.2 L1279.6,1548.7 L1281.0,1550.1 L1282.4,1551.6 L1283.7,1553.1 L1285.1,1554.5 L1286.5,1556.0 L1287.8,1557.4 L1289.2,1558.9 L1290.5,1560.4 L1291.9,1561.8 L1293.2,1563.3 L1294.6,1564.8 L1295.9,1566.3 L1297.3,1567.8 L1298.6,1569.3 L1299.9,1570.7 L1301.3,1572.2 L1302.6,1573.7 L1303.9,1575.2 L1305.2,1576.7 L1306.6,1578.2 L1307.9,1579.7 L1309.2,1581.3 L1310.5,1582.8 L1311.8,1584.3 L1313.1,1585.8 L1314.4,1587.3 L1315.7,1588.8 L1317.0,1590.4 L1318.3,1591.9" stroke="#231f20" stroke-width="4.4" fill="none" stroke-linejoin="round" stroke-dashoffset="0.0"/>
</g>
<text class="cl" x="266.72" y="1126.00">10<tspan font-size="16.67" dx="1.9" dy="-10.7">-4</tspan></text>
<text class="cl" x="266.72" y="1253.10">10<tspan font-size="16.67" dx="1.9" dy="-10.7">-5</tspan></text>
<text class="cl" x="266.72" y="1384.20">10<tspan font-size="16.67" dx="1.9" dy="-10.7">-6</tspan></text>
<text class="cl" x="266.72" y="1514.90">10<tspan font-size="16.67" dx="1.9" dy="-10.7">-7</tspan></text>
<text class="cl" x="266.72" y="1650.50">10<tspan font-size="16.67" dx="1.9" dy="-10.7">-8</tspan></text>
<text class="cx" transform="translate(325.95,1672.95) scale(1,1.05)" text-anchor="middle">10</text>
<text class="cx" transform="translate(658.30,1672.95) scale(1,1.05)" text-anchor="middle">100</text>
<text class="cx" transform="translate(987.85,1672.95) scale(1,1.05)" text-anchor="middle">1000</text>
<text class="cx" transform="translate(1316.65,1672.95) scale(1,1.05)" text-anchor="middle">10000</text>
<g filter="url(#ds)">
<text class="cb" transform="translate(241.85,1275.25) rotate(-90)">|Z<tspan font-size="17" dy="6">тп-вл</tspan><tspan dy="-6">|, Ом/м</tspan></text>
<text class="cb" letter-spacing="0.045" x="773.43" y="1716.15">Расстояние между осями трубопровода и ВЛ, м</text>
<text class="cb" x="439.15" y="1781.15">– УЭС 10 Ом·м;</text>
<text class="cb" letter-spacing="-0.12" x="732.65" y="1781.15">– УЭС 100 Ом·м;</text>
<text class="cb" letter-spacing="-0.13" x="1039.25" y="1781.15">– УЭС 1000 Ом·м</text>
</g>
<path d="M348.8,1774.5H428.2" stroke="#231f20" stroke-width="4.5" stroke-dasharray="12.2 4.7" fill="none"/>
<path d="M643.8,1774.5H675.8M688.5,1774.5H719.7" stroke="#231f20" stroke-width="4.5" fill="none"/>
<path d="M950.4,1774.5H1028.7" stroke="#231f20" stroke-width="4.5" fill="none"/>
<text class="cap" x="787.2" y="1845.5">Рисунок Е.9 — Взаимное магнитное сопротивление между трубопроводом и ВЛ на опоре ПБ2Т в нормальном</text>
<text class="cap" x="787.2" y="1876.6">режиме работы при различных УЭС грунта</text>
<text x="1429.15" y="2136.0">27</text>
</svg>
</body></html>
